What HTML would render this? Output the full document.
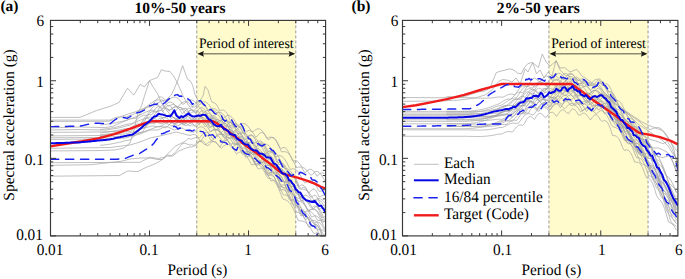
<!DOCTYPE html>
<html><head><meta charset="utf-8"><style>
html,body{margin:0;padding:0;background:#fff;width:685px;height:279px;overflow:hidden;}
svg{display:block;}
text{font-family:"Liberation Serif",serif;text-rendering:geometricPrecision;}
</style></head><body>
<svg width="685" height="279" viewBox="0 0 685 279">
<rect width="685" height="279" fill="#fff"/>
<rect x="196.77" y="20.40" width="99.02" height="215.50" fill="#FFFBCC"/>
<line x1="196.77" y1="20.40" x2="196.77" y2="235.90" stroke="#9a9a9a" stroke-width="1" stroke-dasharray="3 2"/>
<line x1="295.79" y1="20.40" x2="295.79" y2="235.90" stroke="#9a9a9a" stroke-width="1" stroke-dasharray="3 2"/>
<clipPath id="cp0"><rect x="50.5" y="20.4" width="275.10" height="215.50"/></clipPath>
<g clip-path="url(#cp0)">
<polyline points="50.5,117.4 80.1,117.4 96.3,110.6 110.2,106.3 119.0,102.5 127.5,88.2 133.8,95.1 140.1,84.4 144.5,86.9 149.5,80.6 153.9,78.8 157.6,77.5 161.4,69.7 165.0,71.0 170.0,71.5 173.8,76.3 176.9,82.0 180.7,90.1 182.6,95.0 187.0,103.0 190.0,107.2 191.5,106.8 193.0,107.2 194.5,107.2 196.0,105.9 197.5,104.1 199.0,102.6 200.5,102.1 202.0,102.4 203.5,103.3 205.0,105.1 206.5,107.3 208.0,110.0 209.5,109.8 211.0,109.1 212.5,108.7 214.0,108.7 215.5,109.1 217.0,110.2 218.5,111.7 220.0,113.7 221.5,116.0 223.0,118.5 224.5,117.3 226.0,116.3 227.5,115.5 229.0,115.5 230.5,116.2 232.0,117.4 233.5,119.2 235.0,121.5 236.5,124.1 238.0,125.8 239.5,124.8 241.0,123.9 242.5,123.4 244.0,123.5 245.5,124.1 247.0,125.2 248.5,126.9 250.0,128.9 251.5,131.2 253.0,131.8 254.5,130.5 256.0,129.4 257.5,128.9 259.0,128.8 260.5,129.4 262.0,130.7 263.5,132.6 265.0,135.0 266.5,137.9 268.0,138.0 269.5,137.3 271.0,137.1 272.5,137.4 274.0,138.4 275.5,140.2 277.0,142.5 278.5,145.4 280.0,148.6 281.5,151.9 283.0,151.7 284.5,151.6 286.0,151.9 287.5,152.6 289.0,154.0 290.5,155.9 292.0,158.4 293.5,161.4 295.0,164.8 296.5,167.5 298.0,167.2 299.5,167.0 301.0,166.9 302.5,167.3 304.0,167.9 305.5,169.0 307.0,170.6 308.5,172.4 310.0,174.6 311.5,175.2 313.0,173.5 314.5,172.2 316.0,171.5 317.5,171.4 319.0,172.4 320.5,173.9 322.0,176.1 323.5,178.5 325.0,181.1" fill="none" stroke="#a4a4a4" stroke-width="0.7" stroke-linejoin="round" />
<polyline points="50.5,120.1 113.9,120.1 121.4,116.3 128.9,113.8 135.2,111.9 145.0,108.0 155.0,104.0 162.0,101.0 166.0,100.0 171.3,95.0 177.5,81.3 182.6,65.6 185.1,72.5 187.6,79.4 190.1,80.7 192.6,85.1 195.1,95.0 199.0,102.0 203.0,96.0 205.1,86.3 208.0,90.0 211.0,100.0 212.0,102.0 213.5,102.6 215.0,103.0 216.5,104.7 218.0,107.0 219.5,110.9 221.0,110.2 222.5,110.0 224.0,110.1 225.5,111.5 227.0,113.3 228.5,116.4 230.0,120.2 231.5,124.2 233.0,124.2 234.5,123.8 236.0,123.9 237.5,124.6 239.0,126.1 240.5,128.2 242.0,130.7 243.5,133.7 245.0,133.2 246.5,131.7 248.0,130.7 249.5,130.4 251.0,131.0 252.5,132.3 254.0,134.4 255.5,136.8 257.0,136.4 258.5,134.5 260.0,133.1 261.5,132.5 263.0,132.9 264.5,134.2 266.0,136.4 267.5,139.2 269.0,139.6 270.5,138.2 272.0,137.5 273.5,137.6 275.0,138.7 276.5,140.8 278.0,143.6 279.5,147.0 281.0,148.6 282.5,147.8 284.0,147.5 285.5,148.1 287.0,149.5 288.5,151.9 290.0,155.0 291.5,158.7 293.0,161.2 294.5,160.8 296.0,160.7 297.5,161.4 299.0,162.8 300.5,165.0 302.0,167.6 303.5,170.7 305.0,172.9 306.5,171.4 308.0,170.0 309.5,169.3 311.0,169.4 312.5,170.2 314.0,171.7 315.5,173.9 317.0,176.3 318.5,174.6 320.0,173.5 321.5,172.8 323.0,173.1 324.5,173.8" fill="none" stroke="#a4a4a4" stroke-width="0.7" stroke-linejoin="round" />
<polyline points="50.5,121.4 108.9,121.3 115.1,117.5 120.2,116.9 126.0,117.0 134.0,114.0 142.0,110.0 150.0,104.0 156.0,100.0 162.7,100.1 168.0,106.0 174.0,104.0 180.0,110.0 186.0,108.0 190.0,113.3 191.5,112.7 193.0,112.0 194.5,111.2 196.0,110.8 197.5,111.0 199.0,112.1 200.5,114.0 202.0,116.1 203.5,115.3 205.0,114.1 206.5,113.3 208.0,113.2 209.5,113.7 211.0,114.9 212.5,116.7 214.0,118.9 215.5,121.2 217.0,123.4 218.5,122.0 220.0,120.8 221.5,119.9 223.0,119.5 224.5,119.8 226.0,120.7 227.5,122.1 229.0,124.3 230.5,126.8 232.0,128.3 233.5,127.2 235.0,126.4 236.5,126.1 238.0,126.4 239.5,127.3 241.0,128.8 242.5,131.0 244.0,133.6 245.5,136.5 247.0,137.2 248.5,136.3 250.0,135.7 251.5,135.5 253.0,136.0 254.5,137.0 256.0,138.6 257.5,140.7 259.0,143.2 260.5,145.9 262.0,145.4 263.5,144.6 265.0,144.1 266.5,144.3 268.0,145.0 269.5,146.3 271.0,148.3 272.5,150.9 274.0,153.8 275.5,156.8 277.0,156.2 278.5,155.8 280.0,155.7 281.5,156.1 283.0,157.1 284.5,158.9 286.0,161.3 287.5,164.1 289.0,167.3 290.5,169.3 292.0,168.9 293.5,168.8 295.0,169.2 296.5,170.2 298.0,171.7 299.5,173.9 301.0,176.4 302.5,179.3 304.0,182.2 305.5,182.8 307.0,181.9 308.5,181.1 310.0,180.9 311.5,181.2 313.0,182.0 314.5,183.3 316.0,185.4 317.5,188.1 319.0,191.3 320.5,191.3 322.0,190.8 323.5,190.5 325.0,190.5" fill="none" stroke="#a4a4a4" stroke-width="0.7" stroke-linejoin="round" />
<polyline points="50.5,127.9 80.0,127.0 105.1,127.6 112.6,126.3 121.4,122.6 130.2,118.8 138.0,116.0 146.0,112.0 152.0,110.0 158.0,112.0 164.0,108.0 170.0,110.0 176.0,106.0 182.0,108.0 188.0,112.0 190.0,110.7 191.5,110.4 193.0,111.0 194.5,109.8 196.0,108.2 197.5,106.7 199.0,106.7 200.5,108.2 202.0,110.8 203.5,113.5 205.0,111.7 206.5,110.7 208.0,110.8 209.5,112.2 211.0,114.8 212.5,118.4 214.0,121.8 215.5,120.4 217.0,119.6 218.5,119.5 220.0,120.7 221.5,122.8 223.0,125.9 224.5,129.1 226.0,127.5 227.5,126.3 229.0,126.3 230.5,127.4 232.0,129.6 233.5,132.7 235.0,136.2 236.5,134.5 238.0,133.3 239.5,133.0 241.0,133.8 242.5,135.9 244.0,138.8 245.5,142.2 247.0,140.5 248.5,139.1 250.0,138.6 251.5,139.3 253.0,141.1 254.5,143.8 256.0,147.1 257.5,145.4 259.0,144.0 260.5,143.5 262.0,144.2 263.5,146.2 265.0,149.2 266.5,152.9 268.0,151.9 269.5,151.0 271.0,151.1 272.5,152.4 274.0,155.0 275.5,158.7 277.0,162.9 278.5,162.5 280.0,162.0 281.5,162.3 283.0,163.8 284.5,166.6 286.0,170.3 287.5,174.5 289.0,174.3 290.5,173.8 292.0,174.2 293.5,175.7 295.0,178.4 296.5,182.0 298.0,186.2 299.5,186.0 301.0,185.1 302.5,185.0 304.0,185.6 305.5,187.3 307.0,189.9 308.5,192.9 310.0,191.9 311.5,190.1 313.0,189.1 314.5,189.2 316.0,190.7 317.5,193.4 319.0,197.0 320.5,196.6 322.0,195.5 323.5,195.1 325.0,195.8" fill="none" stroke="#a4a4a4" stroke-width="0.7" stroke-linejoin="round" />
<polyline points="50.5,130.0 80.0,129.5 105.1,130.1 117.6,128.2 130.2,125.1 138.0,121.0 146.0,118.0 152.0,120.0 158.0,116.0 164.0,118.0 170.0,114.0 176.0,120.0 182.0,118.0 188.0,122.0 190.0,120.7 191.5,120.0 193.0,120.4 194.5,120.5 196.0,118.6 197.5,116.4 199.0,115.2 200.5,115.5 202.0,117.0 203.5,119.4 205.0,120.6 206.5,118.5 208.0,117.2 209.5,117.0 211.0,118.1 212.5,120.2 214.0,123.0 215.5,124.7 217.0,122.6 218.5,121.0 220.0,120.3 221.5,120.7 223.0,122.2 224.5,124.6 226.0,126.5 227.5,124.1 229.0,122.6 230.5,122.1 232.0,122.7 233.5,124.6 235.0,127.3 236.5,130.0 238.0,128.1 239.5,127.0 241.0,126.8 242.5,128.1 244.0,130.5 245.5,133.7 247.0,137.3 248.5,135.9 250.0,134.9 251.5,134.9 253.0,136.0 254.5,138.2 256.0,141.4 257.5,145.1 259.0,143.9 260.5,142.9 262.0,142.8 263.5,143.9 265.0,146.3 266.5,149.7 268.0,153.6 269.5,153.1 271.0,152.4 272.5,152.7 274.0,154.0 275.5,156.7 277.0,160.2 278.5,164.3 280.0,164.3 281.5,163.5 283.0,163.7 284.5,165.0 286.0,167.5 287.5,171.0 289.0,175.1 290.5,175.6 292.0,175.0 293.5,175.3 295.0,176.8 296.5,179.5 298.0,183.1 299.5,187.4 301.0,188.4 302.5,187.6 304.0,187.4 305.5,188.2 307.0,190.1 308.5,192.9 310.0,196.5 311.5,197.2 313.0,195.8 314.5,195.2 316.0,195.8 317.5,197.7 319.0,201.0 320.5,204.9 322.0,206.5 323.5,205.4 325.0,205.0" fill="none" stroke="#a4a4a4" stroke-width="0.7" stroke-linejoin="round" />
<polyline points="50.5,132.4 98.8,132.0 120.0,131.0 132.0,128.0 140.0,126.0 148.0,124.0 156.0,122.0 162.0,124.0 168.0,120.0 174.0,124.0 180.0,122.0 186.0,126.0 190.0,123.3 191.5,122.5 193.0,121.6 194.5,120.9 196.0,121.3 197.5,122.8 199.0,124.5 200.5,122.2 202.0,120.4 203.5,119.7 205.0,120.2 206.5,122.0 208.0,124.7 209.5,128.0 211.0,127.1 212.5,126.0 214.0,125.5 215.5,125.9 217.0,127.4 218.5,129.7 220.0,132.7 221.5,132.6 223.0,130.8 224.5,129.8 226.0,129.7 227.5,130.7 229.0,132.9 230.5,136.0 232.0,137.6 233.5,136.0 235.0,134.9 236.5,134.8 238.0,135.8 239.5,137.9 241.0,140.9 242.5,144.2 244.0,142.8 245.5,141.8 247.0,141.7 248.5,142.5 250.0,144.4 251.5,147.1 253.0,150.5 254.5,150.0 256.0,148.8 257.5,148.3 259.0,148.7 260.5,150.3 262.0,152.9 263.5,156.4 265.0,157.6 266.5,156.6 268.0,156.3 269.5,156.9 271.0,158.8 272.5,161.9 274.0,165.7 275.5,169.0 277.0,168.3 278.5,168.2 280.0,169.0 281.5,170.7 283.0,173.7 284.5,177.5 286.0,181.9 287.5,181.5 289.0,181.3 290.5,181.8 292.0,183.4 293.5,186.1 295.0,189.8 296.5,194.0 298.0,195.0 299.5,194.4 301.0,194.4 302.5,195.2 304.0,196.8 305.5,199.3 307.0,202.3 308.5,203.6 310.0,201.9 311.5,200.8 313.0,200.5 314.5,201.3 316.0,203.4 317.5,206.4 319.0,209.7 320.5,208.4 322.0,207.7 323.5,207.7 325.0,208.8" fill="none" stroke="#a4a4a4" stroke-width="0.7" stroke-linejoin="round" />
<polyline points="50.5,135.9 100.0,135.5 125.0,134.0 136.0,131.0 144.0,128.0 152.0,126.0 160.0,127.0 166.0,123.0 172.0,126.0 178.0,122.0 184.0,125.0 190.0,120.0 191.5,119.3 193.0,119.0 194.5,119.2 196.0,120.4 197.5,120.4 199.0,117.7 200.5,115.6 202.0,114.5 203.5,114.5 205.0,115.7 206.5,117.9 208.0,120.7 209.5,120.2 211.0,118.9 212.5,118.3 214.0,118.4 215.5,119.4 217.0,121.5 218.5,124.1 220.0,127.2 221.5,125.4 223.0,124.1 224.5,123.5 226.0,123.9 227.5,125.2 229.0,127.6 230.5,130.7 232.0,132.7 233.5,131.4 235.0,130.4 236.5,130.2 238.0,131.0 239.5,132.8 241.0,135.5 242.5,139.0 244.0,140.0 245.5,138.9 247.0,138.4 248.5,138.5 250.0,139.6 251.5,141.7 253.0,144.5 254.5,147.7 256.0,147.2 257.5,146.1 259.0,145.6 260.5,146.0 262.0,147.5 263.5,150.0 265.0,153.4 266.5,156.8 268.0,156.0 269.5,155.7 271.0,156.2 272.5,157.8 274.0,160.4 275.5,164.0 277.0,168.2 278.5,171.0 280.0,170.7 281.5,170.9 283.0,171.9 284.5,174.0 286.0,177.1 287.5,180.8 289.0,185.1 290.5,186.4 292.0,186.3 293.5,186.7 295.0,187.9 296.5,190.2 298.0,193.3 299.5,197.1 301.0,201.0 302.5,200.5 304.0,199.7 305.5,199.4 307.0,199.9 308.5,201.3 310.0,203.7 311.5,206.7 313.0,209.0 314.5,207.5 316.0,206.7 317.5,206.8 319.0,208.3 320.5,210.6 322.0,213.9 323.5,217.7 325.0,219.3" fill="none" stroke="#a4a4a4" stroke-width="0.7" stroke-linejoin="round" />
<polyline points="50.5,137.8 100.0,137.5 125.0,136.0 138.0,133.0 146.0,131.0 154.0,128.0 160.0,126.0 166.0,128.0 172.0,122.0 178.0,126.0 184.0,122.0 190.0,126.0 191.5,125.1 193.0,125.0 194.5,125.6 196.0,127.0 197.5,125.9 199.0,124.2 200.5,122.9 202.0,122.3 203.5,122.5 205.0,123.6 206.5,125.4 208.0,127.9 209.5,130.7 211.0,131.5 212.5,130.7 214.0,130.0 215.5,129.7 217.0,130.0 218.5,130.9 220.0,132.4 221.5,134.3 223.0,136.7 224.5,138.2 226.0,136.8 227.5,135.6 229.0,135.1 230.5,135.2 232.0,136.0 233.5,137.5 235.0,139.5 236.5,142.1 238.0,144.8 239.5,144.1 241.0,143.3 242.5,143.0 244.0,143.5 245.5,144.5 247.0,146.1 248.5,148.3 250.0,151.0 251.5,154.0 253.0,154.8 254.5,154.0 256.0,153.6 257.5,153.7 259.0,154.4 260.5,155.8 262.0,157.8 263.5,160.6 265.0,163.7 266.5,166.1 268.0,165.6 269.5,165.5 271.0,165.8 272.5,166.9 274.0,168.6 275.5,171.2 277.0,174.3 278.5,177.8 280.0,181.5 281.5,181.3 283.0,181.2 284.5,181.6 286.0,182.6 287.5,184.2 289.0,186.5 290.5,189.3 292.0,192.7 293.5,196.4 295.0,197.8 296.5,197.8 298.0,198.1 299.5,198.9 301.0,200.1 302.5,201.8 304.0,204.0 305.5,206.5 307.0,209.4 308.5,211.1 310.0,210.1 311.5,209.4 313.0,209.1 314.5,209.3 316.0,210.5 317.5,212.4 319.0,215.4 320.5,218.6 322.0,222.2 323.5,221.7 325.0,221.3" fill="none" stroke="#a4a4a4" stroke-width="0.7" stroke-linejoin="round" />
<polyline points="50.5,139.4 100.0,139.0 125.0,138.0 140.0,134.0 150.0,130.0 158.0,130.0 166.0,126.0 174.0,130.0 182.0,128.0 190.0,132.0 191.5,131.6 193.0,132.1 194.5,131.8 196.0,130.5 197.5,128.7 199.0,127.3 200.5,126.8 202.0,126.9 203.5,127.6 205.0,129.0 206.5,130.9 208.0,133.2 209.5,132.2 211.0,131.0 212.5,130.0 214.0,129.4 215.5,129.2 217.0,129.6 218.5,130.4 220.0,131.7 221.5,133.3 223.0,135.0 224.5,133.1 226.0,131.4 227.5,130.1 229.0,129.5 230.5,129.7 232.0,130.4 233.5,131.9 235.0,133.8 236.5,136.2 238.0,138.1 239.5,137.1 241.0,136.7 242.5,136.9 244.0,137.7 245.5,139.1 247.0,141.0 248.5,143.4 250.0,146.3 251.5,149.5 253.0,151.4 254.5,151.0 256.0,150.8 257.5,151.1 259.0,151.7 260.5,153.0 262.0,154.9 263.5,157.4 265.0,160.4 266.5,163.8 268.0,165.2 269.5,164.9 271.0,165.0 272.5,165.6 274.0,166.7 275.5,168.6 277.0,171.0 278.5,173.9 280.0,177.2 281.5,180.6 283.0,181.6 284.5,181.6 286.0,182.0 287.5,182.8 289.0,184.2 290.5,186.3 292.0,189.0 293.5,192.3 295.0,196.1 296.5,200.1 298.0,200.8 299.5,201.3 301.0,201.8 302.5,202.8 304.0,204.1 305.5,205.9 307.0,208.2 308.5,210.9 310.0,214.0 311.5,217.0 313.0,216.4 314.5,215.8 316.0,215.9 317.5,216.6 319.0,218.2 320.5,220.2 322.0,222.9 323.5,225.8 325.0,228.9" fill="none" stroke="#a4a4a4" stroke-width="0.7" stroke-linejoin="round" />
<polyline points="50.5,148.3 110.0,147.5 130.0,145.0 140.0,142.0 150.0,138.0 160.0,136.0 168.0,134.0 176.0,132.0 184.0,134.0 190.0,135.5 191.5,134.9 193.0,134.5 194.5,134.5 196.0,135.1 197.5,136.6 199.0,138.4 200.5,136.7 202.0,134.7 203.5,133.1 205.0,132.3 206.5,132.3 208.0,133.0 209.5,134.4 211.0,136.5 212.5,138.8 214.0,138.2 215.5,136.4 217.0,135.1 218.5,134.1 220.0,133.9 221.5,134.4 223.0,135.5 224.5,137.2 226.0,139.4 227.5,139.6 229.0,138.3 230.5,137.4 232.0,137.1 233.5,137.5 235.0,138.6 236.5,140.5 238.0,143.1 239.5,146.1 241.0,148.3 242.5,147.9 244.0,148.0 245.5,148.4 247.0,149.5 248.5,151.1 250.0,153.3 251.5,156.2 253.0,159.4 254.5,162.2 256.0,161.5 257.5,161.0 259.0,160.9 260.5,161.4 262.0,162.6 263.5,164.5 265.0,167.0 266.5,170.2 268.0,173.5 269.5,173.0 271.0,172.7 272.5,172.8 274.0,173.5 275.5,175.1 277.0,177.3 278.5,180.2 280.0,183.5 281.5,187.0 283.0,187.7 284.5,187.6 286.0,188.0 287.5,188.9 289.0,190.6 290.5,193.0 292.0,196.1 293.5,199.8 295.0,203.9 296.5,205.8 298.0,206.1 299.5,206.7 301.0,207.7 302.5,209.1 304.0,211.1 305.5,213.6 307.0,216.5 308.5,219.7 310.0,221.5 311.5,220.8 313.0,220.3 314.5,220.3 316.0,221.1 317.5,222.7 319.0,225.3 320.5,228.4 322.0,231.9 323.5,234.6 325.0,234.0" fill="none" stroke="#a4a4a4" stroke-width="0.7" stroke-linejoin="round" />
<polyline points="50.5,150.9 97.0,150.6 115.0,150.0 124.0,148.0 130.0,143.0 134.0,130.0 138.0,113.0 141.5,105.8 145.1,94.0 149.5,80.6 152.6,86.3 157.6,93.8 162.0,104.0 168.0,112.0 174.0,118.0 180.0,122.0 186.0,118.0 190.0,123.3 191.5,123.0 193.0,123.8 194.5,125.5 196.0,124.7 197.5,123.0 199.0,121.5 200.5,121.2 202.0,122.2 203.5,124.1 205.0,126.9 206.5,125.8 208.0,124.1 209.5,123.2 211.0,123.6 212.5,125.1 214.0,127.5 215.5,130.3 217.0,130.1 218.5,128.2 220.0,127.2 221.5,127.1 223.0,128.2 224.5,130.4 226.0,133.3 227.5,133.9 229.0,132.4 230.5,131.8 232.0,132.1 233.5,133.7 235.0,136.3 236.5,139.7 238.0,141.6 239.5,140.4 241.0,140.1 242.5,141.1 244.0,143.3 245.5,146.5 247.0,150.4 248.5,153.4 250.0,152.5 251.5,152.1 253.0,152.7 254.5,154.3 256.0,157.0 257.5,160.5 259.0,163.9 260.5,162.6 262.0,161.8 263.5,162.0 265.0,163.4 266.5,166.0 268.0,169.5 269.5,173.4 271.0,172.7 272.5,172.2 274.0,172.6 275.5,174.3 277.0,177.0 278.5,180.7 280.0,185.0 281.5,185.1 283.0,184.8 284.5,185.3 286.0,187.1 287.5,189.9 289.0,193.8 290.5,198.3 292.0,199.6 293.5,199.5 295.0,200.4 296.5,202.2 298.0,205.3 299.5,209.3 301.0,213.8 302.5,215.6 304.0,215.1 305.5,215.1 307.0,216.0 308.5,217.9 310.0,221.0 311.5,224.7 313.0,226.5 314.5,225.3 316.0,225.0 317.5,225.8 319.0,228.1 320.5,231.2 322.0,235.3 323.5,238.1" fill="none" stroke="#a4a4a4" stroke-width="0.7" stroke-linejoin="round" />
<polyline points="50.5,162.7 140.0,162.3 150.1,157.2 158.3,158.6 164.4,157.2 168.5,153.0 175.1,146.3 180.1,143.8 185.1,141.3 188.9,138.2 190.0,139.1 191.5,139.1 193.0,138.7 194.5,137.9 196.0,137.5 197.5,137.9 199.0,139.4 200.5,141.5 202.0,139.2 203.5,136.8 205.0,135.4 206.5,135.0 208.0,135.9 209.5,137.7 211.0,140.3 212.5,140.6 214.0,138.4 215.5,136.8 217.0,136.1 218.5,136.4 220.0,137.7 221.5,139.8 223.0,142.0 224.5,139.7 226.0,137.9 227.5,137.0 229.0,137.4 230.5,139.0 232.0,141.5 233.5,144.7 235.0,144.8 236.5,143.5 238.0,143.0 239.5,143.6 241.0,145.5 242.5,148.7 244.0,152.6 245.5,155.4 247.0,154.6 248.5,154.2 250.0,154.7 251.5,156.2 253.0,158.6 254.5,161.9 256.0,165.7 257.5,165.2 259.0,164.3 260.5,164.1 262.0,164.9 263.5,166.9 265.0,169.8 266.5,173.5 268.0,175.2 269.5,174.3 271.0,174.1 272.5,174.8 274.0,176.7 275.5,179.7 277.0,183.5 278.5,187.5 280.0,186.8 281.5,186.4 283.0,186.9 284.5,188.6 286.0,191.4 287.5,195.0 289.0,199.3 290.5,200.6 292.0,200.3 293.5,200.8 295.0,202.3 296.5,204.9 298.0,208.5 299.5,212.7 301.0,216.0 302.5,215.4 304.0,215.1 305.5,215.5 307.0,216.8 308.5,219.1 310.0,222.3 311.5,225.9 313.0,225.5 314.5,224.4 316.0,224.3 317.5,225.3 319.0,227.8 320.5,231.0 322.0,235.0 323.5,237.1 325.0,236.2" fill="none" stroke="#a4a4a4" stroke-width="0.7" stroke-linejoin="round" />
<polyline points="50.5,165.3 90.9,164.7 121.5,161.2 130.0,159.0 140.0,158.0 150.0,158.0 158.0,159.5 162.5,159.5 167.5,155.1 171.3,155.7 175.1,152.6 180.1,146.3 182.0,143.8 185.1,143.2 190.0,145.2 191.5,144.6 193.0,145.0 194.5,146.2 196.0,145.4 197.5,143.6 199.0,141.9 200.5,141.0 202.0,140.9 203.5,141.6 205.0,143.2 206.5,145.3 208.0,145.9 209.5,144.0 211.0,142.6 212.5,141.7 214.0,141.5 215.5,142.0 217.0,143.2 218.5,144.9 220.0,146.9 221.5,144.6 223.0,142.5 224.5,141.0 226.0,140.4 227.5,140.5 229.0,141.8 230.5,143.8 232.0,146.3 233.5,146.8 235.0,145.4 236.5,144.5 238.0,144.4 239.5,145.2 241.0,147.2 242.5,150.2 244.0,153.8 245.5,157.3 247.0,156.7 248.5,156.3 250.0,156.5 251.5,157.5 253.0,159.2 254.5,161.8 256.0,164.9 257.5,168.4 259.0,169.1 260.5,168.3 262.0,168.0 263.5,168.5 265.0,169.8 266.5,172.0 268.0,174.9 269.5,178.3 271.0,181.2 272.5,180.6 274.0,180.5 275.5,181.0 277.0,182.3 278.5,184.4 280.0,187.2 281.5,190.6 283.0,194.5 284.5,195.1 286.0,195.1 287.5,195.4 289.0,196.6 290.5,198.5 292.0,201.4 293.5,205.0 295.0,209.2 296.5,212.2 298.0,212.3 299.5,212.8 301.0,213.7 302.5,215.3 304.0,217.5 305.5,220.3 307.0,223.6 308.5,227.1 310.0,226.9 311.5,226.3 313.0,226.1 314.5,226.6 316.0,228.1 317.5,230.4 319.0,233.9 320.5,237.6 322.0,239.6" fill="none" stroke="#a4a4a4" stroke-width="0.7" stroke-linejoin="round" />
<polyline points="50.5,176.2 119.5,175.5 127.7,171.0 137.9,171.5 146.0,167.4 156.3,163.3 161.4,160.2 166.5,156.1 172.6,156.1 178.8,151.0 186.0,148.0 190.0,147.0 191.5,147.0 193.0,146.4 194.5,145.1 196.0,143.6 197.5,142.0 199.0,141.2 200.5,141.4 202.0,142.2 203.5,143.4 205.0,145.0 206.5,144.3 208.0,142.8 209.5,141.7 211.0,141.1 212.5,141.1 214.0,141.5 215.5,142.4 217.0,143.8 218.5,145.5 220.0,147.5 221.5,148.1 223.0,146.7 224.5,145.4 226.0,144.7 227.5,144.3 229.0,144.7 230.5,145.8 232.0,147.4 233.5,149.4 235.0,151.7 236.5,153.9 238.0,152.9 239.5,152.1 241.0,151.9 242.5,152.4 244.0,153.5 245.5,154.9 247.0,156.9 248.5,159.2 250.0,161.8 251.5,164.7 253.0,164.8 254.5,164.2 256.0,163.9 257.5,164.0 259.0,164.6 260.5,165.8 262.0,167.6 263.5,170.0 265.0,173.0 266.5,176.3 268.0,178.2 269.5,178.2 271.0,178.5 272.5,179.4 274.0,180.7 275.5,182.8 277.0,185.4 278.5,188.5 280.0,192.0 281.5,195.7 283.0,199.1 284.5,199.5 286.0,200.1 287.5,201.0 289.0,202.3 290.5,204.0 292.0,206.4 293.5,209.3 295.0,212.6 296.5,216.3 298.0,220.1 299.5,220.9 301.0,220.9 302.5,221.1 304.0,221.5 305.5,222.3 307.0,223.5 308.5,225.1 310.0,227.3 311.5,229.8 313.0,232.6 314.5,233.5 316.0,233.0 317.5,232.8 319.0,233.5 320.5,234.6 322.0,236.3 323.5,238.4" fill="none" stroke="#a4a4a4" stroke-width="0.7" stroke-linejoin="round" />
<polyline points="100.0,129.5 101.5,129.3 103.0,129.2 104.5,129.0 106.0,128.8 107.5,128.6 109.0,128.4 110.5,128.2 112.0,127.9 113.5,127.6 115.0,127.4 116.5,127.0 118.0,126.7 119.5,126.4 121.0,126.0 122.5,125.5 124.0,125.0 125.5,124.6 127.0,124.3 128.5,124.0 130.0,123.9 131.5,123.9 133.0,123.1 134.5,121.8 136.0,120.4 137.5,119.0 139.0,117.8 140.5,116.7 142.0,115.9 143.5,115.4 145.0,115.2 146.5,115.2 148.0,113.8 149.5,111.5 151.0,109.3 152.5,107.4 154.0,106.0 155.5,105.1 157.0,105.0 158.5,105.5 160.0,106.7 161.5,108.3 163.0,108.3 164.5,106.2 166.0,104.5 167.5,102.9 169.0,102.2 170.5,102.2 172.0,102.6 173.5,103.8 175.0,105.1 176.5,106.8 178.0,106.9 179.5,105.1 181.0,103.3 182.5,102.5 184.0,101.8 185.5,101.6 187.0,101.9 188.5,102.7 190.0,104.0 191.5,105.5 193.0,106.5 194.5,104.8 196.0,103.2 197.5,102.1 199.0,101.4 200.5,101.4 202.0,102.2 203.5,103.7 205.0,105.8 206.5,108.4 208.0,111.0 209.5,110.3 211.0,110.1 212.5,110.2 214.0,110.6 215.5,111.5 217.0,113.0 218.5,115.0 220.0,117.4 221.5,120.0 223.0,122.9 224.5,122.2 226.0,121.6 227.5,121.2 229.0,121.6 230.5,122.5 232.0,123.9 233.5,125.9 235.0,128.3 236.5,131.0 238.0,133.9 239.5,133.7 241.0,133.0 242.5,132.7 244.0,132.9 245.5,133.6 247.0,134.7 248.5,136.3 250.0,138.3 251.5,140.6 253.0,143.2 254.5,143.1 256.0,142.1 257.5,141.4 259.0,141.0 260.5,141.2 262.0,141.9 263.5,143.4 265.0,145.4 266.5,148.1 268.0,150.9 269.5,151.7 271.0,151.2 272.5,151.2 274.0,151.6 275.5,152.7 277.0,154.4 278.5,156.6 280.0,159.4 281.5,162.6 283.0,166.2 284.5,168.3 286.0,168.5 287.5,168.9 289.0,169.8 290.5,171.2 292.0,173.2 293.5,175.8 295.0,179.0 296.5,182.6 298.0,186.4 299.5,189.1 301.0,189.1 302.5,189.2 304.0,189.4 305.5,189.9 307.0,190.8 308.5,192.1 310.0,194.0 311.5,196.2 313.0,198.6 314.5,200.4 316.0,199.3 317.5,198.6 319.0,198.6 320.5,198.9 322.0,199.9 323.5,201.2 325.0,202.9" fill="none" stroke="#a4a4a4" stroke-width="0.7" stroke-linejoin="round" />
<polyline points="100.0,133.0 101.5,132.8 103.0,132.7 104.5,132.5 106.0,132.3 107.5,132.1 109.0,131.9 110.5,131.7 112.0,131.4 113.5,131.2 115.0,130.9 116.5,130.6 118.0,130.3 119.5,130.0 121.0,129.6 122.5,129.3 124.0,128.9 125.5,128.7 127.0,128.7 128.5,128.8 130.0,128.4 131.5,127.3 133.0,126.3 134.5,125.2 136.0,124.5 137.5,124.0 139.0,124.0 140.5,124.0 142.0,121.7 143.5,119.3 145.0,117.2 146.5,115.7 148.0,114.7 149.5,114.6 151.0,115.0 152.5,114.0 154.0,111.1 155.5,108.6 157.0,107.0 158.5,106.5 160.0,107.2 161.5,109.0 163.0,111.4 164.5,109.4 166.0,107.3 167.5,105.7 169.0,105.4 170.5,106.3 172.0,108.1 173.5,110.7 175.0,111.9 176.5,109.9 178.0,108.1 179.5,107.5 181.0,107.8 182.5,109.5 184.0,111.7 185.5,114.3 187.0,113.4 188.5,111.4 190.0,110.0 191.5,109.5 193.0,110.1 194.5,111.7 196.0,113.9 197.5,115.7 199.0,113.3 200.5,111.5 202.0,110.7 203.5,111.0 205.0,112.4 206.5,114.9 208.0,118.1 209.5,118.6 211.0,117.5 212.5,116.9 214.0,117.1 215.5,118.3 217.0,120.4 218.5,123.2 220.0,126.4 221.5,124.7 223.0,123.5 224.5,123.1 226.0,123.7 227.5,125.3 229.0,128.1 230.5,131.6 232.0,133.2 233.5,132.2 235.0,131.7 236.5,132.2 238.0,133.6 239.5,136.1 241.0,139.3 242.5,143.2 244.0,143.1 245.5,142.5 247.0,142.5 248.5,143.3 250.0,145.2 251.5,147.9 253.0,151.2 254.5,153.6 256.0,152.3 257.5,151.6 259.0,151.6 260.5,152.5 262.0,154.4 263.5,157.2 265.0,160.6 266.5,160.9 268.0,159.9 269.5,159.5 271.0,160.2 272.5,161.9 274.0,164.6 275.5,168.2 277.0,171.6 278.5,170.6 280.0,170.2 281.5,170.4 283.0,171.8 284.5,174.2 286.0,177.6 287.5,181.6 289.0,183.2 290.5,182.7 292.0,182.9 293.5,184.1 295.0,186.3 296.5,189.6 298.0,193.6 299.5,198.0 301.0,197.6 302.5,197.3 304.0,197.4 305.5,198.4 307.0,200.3 308.5,203.0 310.0,206.4 311.5,208.1 313.0,206.8 314.5,206.0 316.0,206.2 317.5,207.5 319.0,210.2 320.5,213.5 322.0,217.4 323.5,217.3 325.0,216.3" fill="none" stroke="#a4a4a4" stroke-width="0.7" stroke-linejoin="round" />
<polyline points="100.0,134.9 101.5,134.7 103.0,134.6 104.5,134.4 106.0,134.2 107.5,134.0 109.0,133.8 110.5,133.6 112.0,133.3 113.5,133.1 115.0,132.8 116.5,132.5 118.0,132.3 119.5,132.0 121.0,131.8 122.5,131.8 124.0,131.5 125.5,131.2 127.0,130.8 128.5,130.2 130.0,129.6 131.5,129.1 133.0,128.7 134.5,128.4 136.0,128.3 137.5,128.1 139.0,126.5 140.5,124.5 142.0,122.6 143.5,120.8 145.0,119.3 146.5,118.1 148.0,117.3 149.5,117.0 151.0,117.1 152.5,117.7 154.0,115.7 155.5,113.5 157.0,111.8 158.5,110.6 160.0,110.2 161.5,110.7 163.0,111.9 164.5,113.3 166.0,115.3 167.5,117.2 169.0,116.1 170.5,115.0 172.0,114.1 173.5,113.8 175.0,113.8 176.5,114.5 178.0,115.3 179.5,117.0 181.0,118.8 182.5,121.2 184.0,120.1 185.5,118.4 187.0,117.1 188.5,116.0 190.0,115.5 191.5,115.5 193.0,116.2 194.5,117.3 196.0,118.8 197.5,120.4 199.0,118.9 200.5,117.1 202.0,115.9 203.5,115.2 205.0,115.4 206.5,116.3 208.0,118.0 209.5,120.3 211.0,123.1 212.5,126.2 214.0,126.1 215.5,125.5 217.0,125.3 218.5,125.4 220.0,126.2 221.5,127.5 223.0,129.4 224.5,131.9 226.0,134.8 227.5,137.9 229.0,138.2 230.5,138.0 232.0,138.1 233.5,138.6 235.0,139.7 236.5,141.3 238.0,143.4 239.5,146.0 241.0,148.9 242.5,152.1 244.0,152.4 245.5,151.9 247.0,151.7 248.5,151.8 250.0,152.3 251.5,153.4 253.0,155.0 254.5,157.0 256.0,159.4 257.5,162.0 259.0,161.6 260.5,160.5 262.0,159.8 263.5,159.6 265.0,160.1 266.5,161.3 268.0,163.1 269.5,165.5 271.0,168.4 272.5,171.7 274.0,172.2 275.5,172.2 277.0,172.5 278.5,173.4 280.0,174.8 281.5,176.7 283.0,179.4 284.5,182.7 286.0,186.4 287.5,190.3 289.0,191.6 290.5,192.0 292.0,192.8 293.5,194.1 295.0,195.9 296.5,198.3 298.0,201.2 299.5,204.6 301.0,208.0 302.5,211.5 304.0,212.0 305.5,211.5 307.0,211.1 308.5,211.0 310.0,211.4 311.5,212.3 313.0,213.6 314.5,215.4 316.0,217.7 317.5,220.3 319.0,220.7 320.5,220.1 322.0,219.8 323.5,219.8 325.0,220.2" fill="none" stroke="#a4a4a4" stroke-width="0.7" stroke-linejoin="round" />
<polyline points="100.0,136.5 101.5,136.3 103.0,136.2 104.5,136.0 106.0,135.8 107.5,135.6 109.0,135.4 110.5,135.2 112.0,134.9 113.5,134.6 115.0,134.3 116.5,134.0 118.0,133.7 119.5,133.3 121.0,132.9 122.5,132.5 124.0,132.1 125.5,131.8 127.0,131.6 128.5,131.5 130.0,131.6 131.5,130.5 133.0,129.3 134.5,127.9 136.0,126.6 137.5,125.5 139.0,124.6 140.5,124.0 142.0,123.7 143.5,122.9 145.0,120.2 146.5,117.6 148.0,115.2 149.5,113.4 151.0,112.1 152.5,111.5 154.0,111.7 155.5,112.4 157.0,111.5 158.5,109.0 160.0,107.1 161.5,106.0 163.0,105.8 164.5,106.2 166.0,107.4 167.5,109.0 169.0,111.2 170.5,110.1 172.0,108.5 173.5,107.5 175.0,106.9 176.5,107.2 178.0,107.9 179.5,109.5 181.0,111.6 182.5,113.9 184.0,112.0 185.5,110.3 187.0,109.0 188.5,108.3 190.0,108.4 191.5,109.1 193.0,110.6 194.5,112.4 196.0,113.0 197.5,110.8 199.0,108.9 200.5,107.8 202.0,107.7 203.5,108.5 205.0,110.3 206.5,112.8 208.0,115.8 209.5,116.4 211.0,115.7 212.5,115.5 214.0,115.7 215.5,116.6 217.0,118.4 218.5,120.8 220.0,123.7 221.5,127.0 223.0,126.6 224.5,126.0 226.0,125.9 227.5,126.5 229.0,128.1 230.5,130.5 232.0,133.6 233.5,137.2 235.0,140.4 236.5,139.9 238.0,139.7 239.5,140.1 241.0,141.1 242.5,143.0 244.0,145.7 245.5,148.8 247.0,152.3 248.5,154.1 250.0,153.3 251.5,152.8 253.0,152.9 254.5,153.6 256.0,155.1 257.5,157.2 259.0,159.8 260.5,162.7 262.0,162.9 263.5,161.9 265.0,161.4 266.5,161.7 268.0,162.7 269.5,164.5 271.0,167.1 272.5,170.4 274.0,174.1 275.5,174.0 277.0,173.9 278.5,174.4 280.0,175.5 281.5,177.3 283.0,180.1 284.5,183.6 286.0,187.8 287.5,191.3 289.0,191.5 290.5,192.0 292.0,193.2 293.5,195.0 295.0,197.7 296.5,201.2 298.0,205.2 299.5,209.6 301.0,212.0 302.5,211.9 304.0,212.0 305.5,212.5 307.0,213.5 308.5,215.1 310.0,217.5 311.5,220.3 313.0,223.3 314.5,223.2 316.0,222.3 317.5,221.9 319.0,222.5 320.5,223.6 322.0,225.6 323.5,228.1 325.0,231.0" fill="none" stroke="#a4a4a4" stroke-width="0.7" stroke-linejoin="round" />
<polyline points="100.0,140.4 101.5,140.2 103.0,140.1 104.5,139.9 106.0,139.7 107.5,139.5 109.0,139.3 110.5,139.1 112.0,138.8 113.5,138.6 115.0,138.3 116.5,138.0 118.0,137.7 119.5,137.5 121.0,137.2 122.5,136.9 124.0,136.5 125.5,136.0 127.0,135.6 128.5,135.2 130.0,135.1 131.5,135.0 133.0,134.8 134.5,133.3 136.0,131.8 137.5,130.2 139.0,129.0 140.5,127.9 142.0,127.3 143.5,127.2 145.0,127.4 146.5,125.9 148.0,123.5 149.5,121.4 151.0,119.7 152.5,118.7 154.0,118.5 155.5,119.1 157.0,120.5 158.5,122.3 160.0,120.4 161.5,118.8 163.0,117.9 164.5,117.4 166.0,117.8 167.5,118.6 169.0,120.4 170.5,122.7 172.0,123.2 173.5,121.4 175.0,119.8 176.5,118.9 178.0,118.4 179.5,119.0 181.0,120.1 182.5,122.2 184.0,124.3 185.5,122.7 187.0,120.6 188.5,118.9 190.0,117.9 191.5,117.6 193.0,118.3 194.5,119.7 196.0,121.6 197.5,122.6 199.0,120.4 200.5,118.7 202.0,117.7 203.5,117.6 205.0,118.5 206.5,120.3 208.0,123.0 209.5,126.1 211.0,126.7 212.5,125.9 214.0,125.6 215.5,125.7 217.0,126.7 218.5,128.3 220.0,130.7 221.5,133.5 223.0,136.4 224.5,135.2 226.0,134.4 227.5,134.0 229.0,134.5 230.5,135.8 232.0,137.8 233.5,140.4 235.0,143.4 236.5,144.6 238.0,143.4 239.5,142.7 241.0,142.4 242.5,143.1 244.0,144.5 245.5,146.5 247.0,149.1 248.5,151.8 250.0,151.0 251.5,149.7 253.0,148.9 254.5,148.7 256.0,149.3 257.5,150.7 259.0,152.7 260.5,155.2 262.0,157.0 263.5,155.6 265.0,154.7 266.5,154.6 268.0,155.3 269.5,156.8 271.0,159.1 272.5,162.2 274.0,165.8 275.5,167.0 277.0,166.6 278.5,166.8 280.0,167.6 281.5,169.1 283.0,171.5 284.5,174.7 286.0,178.4 287.5,182.2 289.0,181.9 290.5,181.9 292.0,182.4 293.5,183.6 295.0,185.6 296.5,188.4 298.0,191.7 299.5,195.3 301.0,197.1 302.5,196.3 304.0,195.5 305.5,195.3 307.0,195.6 308.5,196.6 310.0,198.3 311.5,200.5 313.0,203.0 314.5,201.9 316.0,200.5 317.5,199.7 319.0,200.0 320.5,200.9 322.0,202.7 323.5,205.1 325.0,207.9" fill="none" stroke="#a4a4a4" stroke-width="0.7" stroke-linejoin="round" />
<polyline points="100.0,125.0 101.5,124.8 103.0,124.7 104.5,124.5 106.0,124.3 107.5,124.1 109.0,123.9 110.5,123.7 112.0,123.4 113.5,123.2 115.0,122.9 116.5,122.6 118.0,122.2 119.5,121.9 121.0,121.6 122.5,121.3 124.0,120.9 125.5,120.4 127.0,120.0 128.5,119.4 130.0,119.0 131.5,118.7 133.0,118.5 134.5,118.3 136.0,118.4 137.5,116.8 139.0,115.1 140.5,113.3 142.0,111.6 143.5,110.0 145.0,108.8 146.5,107.8 148.0,107.1 149.5,106.9 151.0,106.9 152.5,105.5 154.0,103.0 155.5,100.7 157.0,98.8 158.5,97.4 160.0,96.8 161.5,97.1 163.0,98.0 164.5,99.1 166.0,100.7 167.5,101.6 169.0,99.9 170.5,98.6 172.0,97.6 173.5,97.2 175.0,97.0 176.5,97.7 178.0,98.4 179.5,100.0 181.0,101.8 182.5,104.3 184.0,103.8 185.5,102.4 187.0,101.2 188.5,100.3 190.0,99.8 191.5,99.8 193.0,100.5 194.5,101.6 196.0,103.1 197.5,104.8 199.0,105.4 200.5,103.7 202.0,102.6 203.5,101.9 205.0,101.8 206.5,102.4 208.0,103.7 209.5,105.5 211.0,108.0 212.5,110.8 214.0,113.6 215.5,113.3 217.0,112.7 218.5,112.3 220.0,112.5 221.5,113.0 223.0,114.2 224.5,115.9 226.0,118.2 227.5,120.9 229.0,124.1 230.5,125.9 232.0,125.8 233.5,125.9 235.0,126.3 236.5,127.3 238.0,128.8 239.5,130.8 241.0,133.3 242.5,136.3 244.0,139.7 245.5,143.0 247.0,142.8 248.5,142.5 250.0,142.6 251.5,142.9 253.0,143.8 254.5,145.1 256.0,146.8 257.5,149.0 259.0,151.4 260.5,154.0 262.0,154.5 263.5,153.8 265.0,153.3 266.5,153.4 268.0,154.0 269.5,155.1 271.0,156.8 272.5,159.2 274.0,162.1 275.5,165.4 277.0,168.3 278.5,168.3 280.0,168.5 281.5,169.0 283.0,170.1 284.5,171.9 286.0,174.3 287.5,177.2 289.0,180.7 290.5,184.5 292.0,188.6 293.5,190.1 295.0,190.9 296.5,192.0 298.0,193.4 299.5,195.3 301.0,197.4 302.5,199.9 304.0,202.6 305.5,205.5 307.0,208.5 308.5,210.4 310.0,209.8 311.5,209.3 313.0,209.0 314.5,209.1 316.0,209.8 317.5,211.2 319.0,213.4 320.5,215.9 322.0,218.8 323.5,221.7 325.0,221.3" fill="none" stroke="#a4a4a4" stroke-width="0.7" stroke-linejoin="round" />
<polyline points="100.0,145.4 101.5,145.2 103.0,145.1 104.5,144.9 106.0,144.7 107.5,144.5 109.0,144.3 110.5,144.1 112.0,143.8 113.5,143.5 115.0,143.2 116.5,142.9 118.0,142.6 119.5,142.2 121.0,141.9 122.5,141.4 124.0,141.0 125.5,140.6 127.0,140.4 128.5,140.3 130.0,139.9 131.5,138.7 133.0,137.3 134.5,135.9 136.0,134.7 137.5,133.7 139.0,133.1 140.5,132.8 142.0,132.8 143.5,130.4 145.0,128.0 146.5,125.9 148.0,124.1 149.5,123.1 151.0,122.7 152.5,123.1 154.0,124.2 155.5,123.2 157.0,120.9 158.5,119.1 160.0,118.1 161.5,118.1 163.0,119.0 164.5,120.3 166.0,122.3 167.5,123.0 169.0,120.8 170.5,119.1 172.0,117.9 173.5,117.6 175.0,117.8 176.5,119.0 178.0,120.3 179.5,122.4 181.0,120.4 182.5,118.6 184.0,117.0 185.5,116.1 187.0,116.0 188.5,116.7 190.0,118.2 191.5,120.0 193.0,119.8 194.5,117.8 196.0,116.2 197.5,115.3 199.0,115.3 200.5,116.3 202.0,118.5 203.5,121.3 205.0,123.8 206.5,122.8 208.0,122.4 209.5,122.7 211.0,123.9 212.5,125.9 214.0,128.6 215.5,131.8 217.0,135.3 218.5,135.1 220.0,134.3 221.5,134.0 223.0,134.3 224.5,135.5 226.0,137.5 227.5,140.1 229.0,143.3 230.5,144.7 232.0,143.7 233.5,143.2 235.0,143.3 236.5,144.2 238.0,145.9 239.5,148.4 241.0,151.4 242.5,154.4 244.0,153.6 245.5,153.0 247.0,152.9 248.5,153.6 250.0,155.1 251.5,157.5 253.0,160.5 254.5,163.9 256.0,164.0 257.5,163.3 259.0,163.0 260.5,163.4 262.0,164.7 263.5,167.0 265.0,170.0 266.5,173.6 268.0,175.7 269.5,175.2 271.0,175.1 272.5,175.8 274.0,177.3 275.5,179.8 277.0,182.9 278.5,186.6 280.0,190.4 281.5,189.8 283.0,189.7 284.5,190.2 286.0,191.4 287.5,193.5 289.0,196.4 290.5,199.8 292.0,203.8 293.5,204.9 295.0,204.8 296.5,205.3 298.0,206.4 299.5,208.3 301.0,210.9 302.5,214.0 304.0,217.5 305.5,219.6 307.0,218.7 308.5,218.1 310.0,218.2 311.5,219.1 313.0,220.7 314.5,223.1 316.0,226.3 317.5,229.9 319.0,229.6 320.5,229.4 322.0,229.7 323.5,230.7 325.0,232.3" fill="none" stroke="#a4a4a4" stroke-width="0.7" stroke-linejoin="round" />
<polyline points="50.5,146.4 66.0,143.8 82.1,141.3 98.2,138.4 114.2,134.1 130.3,128.7 143.1,123.9 149.5,121.6 152.0,121.2 213.0,121.3 216.5,123.0 219.3,125.1 226.5,130.1 233.7,135.8 238.0,138.5 242.2,142.9 249.3,148.0 256.5,153.0 262.2,157.9 269.2,162.9 276.3,168.7 280.6,172.2 284.9,174.4 290.7,175.8 297.5,177.6 307.5,180.8 314.7,183.6 321.8,187.2 325.6,188.6" fill="none" stroke="#f01c1c" stroke-width="2.4" stroke-linejoin="round" />
<polyline points="50.5,126.6 52.1,126.6 53.6,126.6 55.2,126.5 56.7,126.5 58.3,126.5 59.8,126.5 61.4,126.5 62.9,126.4 64.5,126.4 66.0,126.4 67.6,126.4 69.1,126.3 70.7,126.3 72.2,126.3 73.8,126.3 75.3,126.3 76.9,126.2 78.4,126.2 80.0,126.2 81.5,125.8 83.0,125.5 84.5,125.1 86.0,124.8 87.5,124.4 89.3,124.2 91.0,123.9 92.8,123.7 94.5,123.4 96.3,123.2 97.8,123.3 99.4,123.3 100.9,123.4 102.4,123.5 104.0,123.5 105.5,123.6 107.0,123.7 108.6,123.7 110.1,123.8 111.7,122.5 113.2,121.3 114.8,120.0 116.4,118.8 118.0,118.5 119.6,118.2 121.1,117.8 122.7,117.5 124.4,117.7 126.0,118.0 127.7,118.2 129.6,117.0 131.4,115.7 133.0,114.9 134.6,114.1 136.1,113.3 137.7,112.5 140.0,112.2 142.2,111.2 144.3,110.1 146.0,108.7 147.6,107.2 149.3,105.8 151.0,105.4 152.7,104.9 154.5,104.1 156.2,104.4 157.9,103.7 159.6,103.8 161.2,102.6 162.9,104.1 165.1,102.5 167.2,100.4 169.0,98.8 170.8,97.9 172.5,98.1 174.1,95.7 175.8,94.9 177.6,94.6 179.4,96.3 181.2,96.0 183.0,97.7 185.2,97.7 187.3,98.4 190.0,100.5 192.4,104.3 195.0,102.4 196.8,101.5 198.6,100.8 200.7,100.7 203.0,103.9 205.0,105.6 207.9,107.0 209.4,109.9 211.0,109.4 213.0,111.5 215.0,113.7 217.9,114.9 220.8,114.2 223.0,119.4 225.1,121.3 227.9,118.9 230.8,118.5 233.7,123.7 235.8,126.5 238.0,127.3 240.7,123.6 242.9,126.8 245.0,132.1 247.2,135.7 248.6,138.6 250.3,139.1 252.0,142.7 253.6,143.9 255.1,145.6 257.9,143.5 259.9,145.0 262.0,146.0 264.9,144.4 267.7,147.5 270.5,148.7 272.0,150.3 273.5,150.8 276.3,155.0 277.8,158.2 279.9,161.2 282.5,166.6 284.9,169.1 286.4,169.4 288.0,171.7 289.7,174.0 291.4,175.9 293.5,174.6 295.6,175.7 297.8,175.9 300.0,172.3 301.8,172.7 304.5,174.2 306.0,174.9 307.5,174.5 309.7,175.5 312.0,179.7 314.7,180.2 317.0,181.8 319.0,186.5 321.8,189.0 324.7,194.4 325.6,196.0" fill="none" stroke="#1a22f0" stroke-width="1.45" stroke-linejoin="round" stroke-dasharray="8.3 6.7" stroke-linecap="round"/>
<polyline points="50.5,159.2 52.0,159.2 53.5,159.2 55.1,159.2 56.6,159.2 58.1,159.2 59.6,159.2 61.1,159.2 62.7,159.2 64.2,159.2 65.7,159.2 67.2,159.2 68.7,159.2 70.3,159.2 71.8,159.2 73.3,159.2 74.8,159.2 76.3,159.2 77.9,159.2 79.4,159.2 80.9,159.2 82.4,159.2 84.0,159.2 85.5,159.2 87.0,159.2 88.5,159.2 90.0,159.2 91.6,159.2 93.1,159.2 94.6,159.2 96.1,159.2 97.6,159.2 99.2,159.2 100.7,159.2 102.2,159.2 103.7,159.2 105.2,159.2 106.8,159.2 108.3,159.2 109.8,159.2 111.3,159.2 112.8,159.2 114.4,159.2 115.9,159.2 117.4,159.2 119.0,159.0 120.7,158.8 122.3,158.6 124.0,158.4 125.6,158.2 127.2,157.6 128.9,156.9 130.5,156.3 132.2,155.6 133.8,155.0 135.6,154.6 137.5,154.1 139.3,153.7 140.9,152.7 142.5,151.7 144.0,150.7 145.6,149.7 147.2,148.7 148.9,147.5 150.5,146.3 152.2,145.0 154.1,142.9 156.0,140.3 157.9,138.0 160.8,133.9 162.9,133.5 165.1,132.7 167.2,131.6 169.4,130.8 171.1,130.4 172.7,126.8 174.4,126.3 176.2,127.0 178.0,129.0 179.8,128.0 181.6,128.7 183.8,130.7 185.9,130.4 187.9,130.2 190.0,130.2 191.7,131.0 193.3,130.6 195.0,129.4 196.6,129.1 198.3,129.9 199.9,131.1 201.4,131.6 203.0,131.6 204.6,133.7 207.1,138.7 209.0,135.0 210.8,135.1 212.7,134.6 215.2,137.7 217.1,138.5 219.0,138.2 220.9,141.7 222.8,142.1 224.6,142.4 226.4,143.1 228.2,145.2 230.0,147.0 231.8,146.5 233.6,148.6 236.5,150.4 237.9,146.9 240.0,147.6 242.2,150.2 245.0,153.1 247.0,154.2 249.0,154.6 251.0,157.7 253.0,158.4 254.7,158.1 256.3,159.8 258.0,161.4 260.0,163.2 262.0,162.3 264.9,165.0 266.4,167.7 268.0,167.7 270.6,169.9 273.5,174.4 276.3,175.6 279.2,177.9 282.1,181.6 284.5,182.0 287.4,185.0 289.6,190.2 292.5,192.1 294.6,196.5 296.5,202.2 298.9,204.9 300.4,207.8 303.0,213.3 304.8,214.4 306.6,217.5 308.6,220.3 310.7,224.6 312.8,226.0 314.8,226.6 317.5,236.5" fill="none" stroke="#1a22f0" stroke-width="1.45" stroke-linejoin="round" stroke-dasharray="8.3 6.7" stroke-linecap="round"/>
<polyline points="50.5,143.3 52.0,143.2 53.5,143.2 55.0,143.2 56.5,143.1 58.0,143.1 59.6,143.0 61.1,143.0 62.6,142.9 64.1,142.9 65.6,142.8 67.1,142.8 68.6,142.7 70.1,142.7 71.6,142.6 73.2,142.6 74.7,142.5 76.2,142.5 77.7,142.4 79.2,142.4 80.7,142.3 82.2,142.1 83.8,142.0 85.3,141.8 86.9,141.7 88.4,141.5 90.0,141.4 91.5,141.2 93.0,141.1 94.6,140.9 96.1,140.8 97.7,140.6 99.2,140.5 100.7,140.3 102.3,140.2 103.8,140.0 105.4,139.9 106.9,139.7 108.5,139.6 110.0,139.4 111.6,139.0 113.3,138.7 114.9,138.3 116.6,137.9 118.2,137.5 119.9,137.2 121.5,136.8 123.1,136.5 124.8,136.1 126.4,135.8 128.0,135.4 129.6,135.1 131.3,134.7 132.9,134.4 134.8,133.0 136.8,131.5 138.7,130.1 140.6,128.4 142.5,126.8 144.4,125.1 146.6,123.5 148.7,121.9 150.6,120.1 152.4,118.1 154.3,116.5 156.4,116.0 158.6,113.8 160.4,114.3 162.2,114.4 165.1,115.4 166.9,116.1 168.7,116.1 170.4,116.4 172.2,113.7 174.4,110.4 176.5,115.7 179.4,118.0 181.2,116.1 183.0,117.2 185.8,115.3 188.7,113.4 190.0,115.0 192.2,116.2 194.3,116.5 196.4,116.0 198.6,115.5 200.8,115.7 202.9,114.6 205.8,115.3 208.6,119.1 210.7,120.0 213.6,124.1 216.5,126.0 219.3,126.3 220.8,124.7 223.6,128.7 225.8,129.5 228.0,130.8 230.1,134.0 232.2,134.4 235.1,135.3 236.8,138.4 238.5,139.6 240.0,140.2 241.5,140.4 243.2,143.1 245.0,144.2 247.9,144.6 250.8,148.5 253.6,150.3 256.5,150.4 259.4,153.6 262.2,153.7 264.9,155.5 266.4,157.5 268.0,157.4 270.6,158.0 273.5,163.3 276.3,164.7 279.2,168.8 282.1,173.4 284.9,173.7 287.5,176.6 289.1,180.4 290.7,180.6 292.4,183.4 294.0,185.0 295.5,189.1 297.0,190.2 298.6,192.2 300.3,192.4 303.2,197.7 306.1,200.2 308.9,201.0 311.8,202.0 314.7,200.8 317.5,204.3 319.2,206.1 321.0,205.6 322.5,207.8 324.0,209.7 325.6,213.0" fill="none" stroke="#0606e6" stroke-width="2.0" stroke-linejoin="round" />
</g>
<rect x="50.5" y="20.4" width="275.10" height="215.50" fill="none" stroke="#383838" stroke-width="1.15"/>
<line x1="50.50" y1="235.90" x2="50.50" y2="230.40" stroke="#383838" stroke-width="1" />
<line x1="50.50" y1="20.40" x2="50.50" y2="25.90" stroke="#383838" stroke-width="1" />
<line x1="50.50" y1="235.90" x2="56.00" y2="235.90" stroke="#383838" stroke-width="1" />
<line x1="325.60" y1="235.90" x2="320.10" y2="235.90" stroke="#383838" stroke-width="1" />
<line x1="149.52" y1="235.90" x2="149.52" y2="230.40" stroke="#383838" stroke-width="1" />
<line x1="149.52" y1="20.40" x2="149.52" y2="25.90" stroke="#383838" stroke-width="1" />
<line x1="50.50" y1="158.33" x2="56.00" y2="158.33" stroke="#383838" stroke-width="1" />
<line x1="325.60" y1="158.33" x2="320.10" y2="158.33" stroke="#383838" stroke-width="1" />
<line x1="248.55" y1="235.90" x2="248.55" y2="230.40" stroke="#383838" stroke-width="1" />
<line x1="248.55" y1="20.40" x2="248.55" y2="25.90" stroke="#383838" stroke-width="1" />
<line x1="50.50" y1="80.76" x2="56.00" y2="80.76" stroke="#383838" stroke-width="1" />
<line x1="325.60" y1="80.76" x2="320.10" y2="80.76" stroke="#383838" stroke-width="1" />
<line x1="80.31" y1="235.90" x2="80.31" y2="233.10" stroke="#383838" stroke-width="1" />
<line x1="80.31" y1="20.40" x2="80.31" y2="23.20" stroke="#383838" stroke-width="1" />
<line x1="50.50" y1="212.55" x2="53.30" y2="212.55" stroke="#383838" stroke-width="1" />
<line x1="325.60" y1="212.55" x2="322.80" y2="212.55" stroke="#383838" stroke-width="1" />
<line x1="97.75" y1="235.90" x2="97.75" y2="233.10" stroke="#383838" stroke-width="1" />
<line x1="97.75" y1="20.40" x2="97.75" y2="23.20" stroke="#383838" stroke-width="1" />
<line x1="50.50" y1="198.89" x2="53.30" y2="198.89" stroke="#383838" stroke-width="1" />
<line x1="325.60" y1="198.89" x2="322.80" y2="198.89" stroke="#383838" stroke-width="1" />
<line x1="110.12" y1="235.90" x2="110.12" y2="233.10" stroke="#383838" stroke-width="1" />
<line x1="110.12" y1="20.40" x2="110.12" y2="23.20" stroke="#383838" stroke-width="1" />
<line x1="50.50" y1="189.20" x2="53.30" y2="189.20" stroke="#383838" stroke-width="1" />
<line x1="325.60" y1="189.20" x2="322.80" y2="189.20" stroke="#383838" stroke-width="1" />
<line x1="119.71" y1="235.90" x2="119.71" y2="233.10" stroke="#383838" stroke-width="1" />
<line x1="119.71" y1="20.40" x2="119.71" y2="23.20" stroke="#383838" stroke-width="1" />
<line x1="50.50" y1="181.68" x2="53.30" y2="181.68" stroke="#383838" stroke-width="1" />
<line x1="325.60" y1="181.68" x2="322.80" y2="181.68" stroke="#383838" stroke-width="1" />
<line x1="127.55" y1="235.90" x2="127.55" y2="233.10" stroke="#383838" stroke-width="1" />
<line x1="127.55" y1="20.40" x2="127.55" y2="23.20" stroke="#383838" stroke-width="1" />
<line x1="50.50" y1="175.54" x2="53.30" y2="175.54" stroke="#383838" stroke-width="1" />
<line x1="325.60" y1="175.54" x2="322.80" y2="175.54" stroke="#383838" stroke-width="1" />
<line x1="134.18" y1="235.90" x2="134.18" y2="233.10" stroke="#383838" stroke-width="1" />
<line x1="134.18" y1="20.40" x2="134.18" y2="23.20" stroke="#383838" stroke-width="1" />
<line x1="50.50" y1="170.35" x2="53.30" y2="170.35" stroke="#383838" stroke-width="1" />
<line x1="325.60" y1="170.35" x2="322.80" y2="170.35" stroke="#383838" stroke-width="1" />
<line x1="139.93" y1="235.90" x2="139.93" y2="233.10" stroke="#383838" stroke-width="1" />
<line x1="139.93" y1="20.40" x2="139.93" y2="23.20" stroke="#383838" stroke-width="1" />
<line x1="50.50" y1="165.85" x2="53.30" y2="165.85" stroke="#383838" stroke-width="1" />
<line x1="325.60" y1="165.85" x2="322.80" y2="165.85" stroke="#383838" stroke-width="1" />
<line x1="144.99" y1="235.90" x2="144.99" y2="233.10" stroke="#383838" stroke-width="1" />
<line x1="144.99" y1="20.40" x2="144.99" y2="23.20" stroke="#383838" stroke-width="1" />
<line x1="50.50" y1="161.88" x2="53.30" y2="161.88" stroke="#383838" stroke-width="1" />
<line x1="325.60" y1="161.88" x2="322.80" y2="161.88" stroke="#383838" stroke-width="1" />
<line x1="179.33" y1="235.90" x2="179.33" y2="233.10" stroke="#383838" stroke-width="1" />
<line x1="179.33" y1="20.40" x2="179.33" y2="23.20" stroke="#383838" stroke-width="1" />
<line x1="50.50" y1="134.98" x2="53.30" y2="134.98" stroke="#383838" stroke-width="1" />
<line x1="325.60" y1="134.98" x2="322.80" y2="134.98" stroke="#383838" stroke-width="1" />
<line x1="196.77" y1="235.90" x2="196.77" y2="233.10" stroke="#383838" stroke-width="1" />
<line x1="196.77" y1="20.40" x2="196.77" y2="23.20" stroke="#383838" stroke-width="1" />
<line x1="50.50" y1="121.32" x2="53.30" y2="121.32" stroke="#383838" stroke-width="1" />
<line x1="325.60" y1="121.32" x2="322.80" y2="121.32" stroke="#383838" stroke-width="1" />
<line x1="209.14" y1="235.90" x2="209.14" y2="233.10" stroke="#383838" stroke-width="1" />
<line x1="209.14" y1="20.40" x2="209.14" y2="23.20" stroke="#383838" stroke-width="1" />
<line x1="50.50" y1="111.63" x2="53.30" y2="111.63" stroke="#383838" stroke-width="1" />
<line x1="325.60" y1="111.63" x2="322.80" y2="111.63" stroke="#383838" stroke-width="1" />
<line x1="218.74" y1="235.90" x2="218.74" y2="233.10" stroke="#383838" stroke-width="1" />
<line x1="218.74" y1="20.40" x2="218.74" y2="23.20" stroke="#383838" stroke-width="1" />
<line x1="50.50" y1="104.11" x2="53.30" y2="104.11" stroke="#383838" stroke-width="1" />
<line x1="325.60" y1="104.11" x2="322.80" y2="104.11" stroke="#383838" stroke-width="1" />
<line x1="226.58" y1="235.90" x2="226.58" y2="233.10" stroke="#383838" stroke-width="1" />
<line x1="226.58" y1="20.40" x2="226.58" y2="23.20" stroke="#383838" stroke-width="1" />
<line x1="50.50" y1="97.97" x2="53.30" y2="97.97" stroke="#383838" stroke-width="1" />
<line x1="325.60" y1="97.97" x2="322.80" y2="97.97" stroke="#383838" stroke-width="1" />
<line x1="233.21" y1="235.90" x2="233.21" y2="233.10" stroke="#383838" stroke-width="1" />
<line x1="233.21" y1="20.40" x2="233.21" y2="23.20" stroke="#383838" stroke-width="1" />
<line x1="50.50" y1="92.78" x2="53.30" y2="92.78" stroke="#383838" stroke-width="1" />
<line x1="325.60" y1="92.78" x2="322.80" y2="92.78" stroke="#383838" stroke-width="1" />
<line x1="238.95" y1="235.90" x2="238.95" y2="233.10" stroke="#383838" stroke-width="1" />
<line x1="238.95" y1="20.40" x2="238.95" y2="23.20" stroke="#383838" stroke-width="1" />
<line x1="50.50" y1="88.28" x2="53.30" y2="88.28" stroke="#383838" stroke-width="1" />
<line x1="325.60" y1="88.28" x2="322.80" y2="88.28" stroke="#383838" stroke-width="1" />
<line x1="244.01" y1="235.90" x2="244.01" y2="233.10" stroke="#383838" stroke-width="1" />
<line x1="244.01" y1="20.40" x2="244.01" y2="23.20" stroke="#383838" stroke-width="1" />
<line x1="50.50" y1="84.31" x2="53.30" y2="84.31" stroke="#383838" stroke-width="1" />
<line x1="325.60" y1="84.31" x2="322.80" y2="84.31" stroke="#383838" stroke-width="1" />
<line x1="278.35" y1="235.90" x2="278.35" y2="233.10" stroke="#383838" stroke-width="1" />
<line x1="278.35" y1="20.40" x2="278.35" y2="23.20" stroke="#383838" stroke-width="1" />
<line x1="50.50" y1="57.41" x2="53.30" y2="57.41" stroke="#383838" stroke-width="1" />
<line x1="325.60" y1="57.41" x2="322.80" y2="57.41" stroke="#383838" stroke-width="1" />
<line x1="295.79" y1="235.90" x2="295.79" y2="233.10" stroke="#383838" stroke-width="1" />
<line x1="295.79" y1="20.40" x2="295.79" y2="23.20" stroke="#383838" stroke-width="1" />
<line x1="50.50" y1="43.75" x2="53.30" y2="43.75" stroke="#383838" stroke-width="1" />
<line x1="325.60" y1="43.75" x2="322.80" y2="43.75" stroke="#383838" stroke-width="1" />
<line x1="308.16" y1="235.90" x2="308.16" y2="233.10" stroke="#383838" stroke-width="1" />
<line x1="308.16" y1="20.40" x2="308.16" y2="23.20" stroke="#383838" stroke-width="1" />
<line x1="50.50" y1="34.06" x2="53.30" y2="34.06" stroke="#383838" stroke-width="1" />
<line x1="325.60" y1="34.06" x2="322.80" y2="34.06" stroke="#383838" stroke-width="1" />
<line x1="317.76" y1="235.90" x2="317.76" y2="233.10" stroke="#383838" stroke-width="1" />
<line x1="317.76" y1="20.40" x2="317.76" y2="23.20" stroke="#383838" stroke-width="1" />
<line x1="50.50" y1="26.54" x2="53.30" y2="26.54" stroke="#383838" stroke-width="1" />
<line x1="325.60" y1="26.54" x2="322.80" y2="26.54" stroke="#383838" stroke-width="1" />
<text transform="translate(50.00,254.60) scale(0.955,1)" font-size="16.0" font-family="Liberation Serif, serif" text-anchor="middle" font-weight="normal" fill="#000" >0.01</text>
<text transform="translate(42.90,240.30) scale(0.955,1)" font-size="16.0" font-family="Liberation Serif, serif" text-anchor="end" font-weight="normal" fill="#000" >0.01</text>
<text transform="translate(149.02,254.60) scale(0.955,1)" font-size="16.0" font-family="Liberation Serif, serif" text-anchor="middle" font-weight="normal" fill="#000" >0.1</text>
<text transform="translate(43.80,165.43) scale(0.955,1)" font-size="16.0" font-family="Liberation Serif, serif" text-anchor="end" font-weight="normal" fill="#000" >0.1</text>
<text transform="translate(248.05,254.60) scale(0.955,1)" font-size="16.0" font-family="Liberation Serif, serif" text-anchor="middle" font-weight="normal" fill="#000" >1</text>
<text transform="translate(43.90,87.16) scale(0.955,1)" font-size="16.0" font-family="Liberation Serif, serif" text-anchor="end" font-weight="normal" fill="#000" >1</text>
<text transform="translate(325.10,254.60) scale(0.955,1)" font-size="16.0" font-family="Liberation Serif, serif" text-anchor="middle" font-weight="normal" fill="#000" >6</text>
<text transform="translate(44.10,25.50) scale(0.955,1)" font-size="16.0" font-family="Liberation Serif, serif" text-anchor="end" font-weight="normal" fill="#000" >6</text>
<text transform="translate(167.50,274.70) scale(0.955,1)" font-size="16.0" font-family="Liberation Serif, serif" text-anchor="start" font-weight="normal" fill="#000" >Period (s)</text>
<text transform="translate(14.3,200.7) rotate(-90)" font-size="15.5" font-family="Liberation Serif, serif" fill="#000">Spectral acceleration (g)</text>
<text transform="translate(246.28,47.90) scale(0.955,1)" font-size="14.4" font-family="Liberation Serif, serif" text-anchor="middle" font-weight="normal" fill="#000" >Period of interest</text>
<line x1="200.77" y1="53.80" x2="291.79" y2="53.80" stroke="#000" stroke-width="1.5" stroke-opacity="0.45"/>
<path d="M197.37,53.8 l6.6,-2.9 l-1.0,2.9 l1.0,2.9 z" fill="#1a1a1a"/>
<path d="M295.19,53.8 l-6.6,-2.9 l1.0,2.9 l-1.0,2.9 z" fill="#1a1a1a"/>
<rect x="548.93" y="20.40" width="99.13" height="215.50" fill="#FFFBCC"/>
<line x1="548.93" y1="20.40" x2="548.93" y2="235.90" stroke="#9a9a9a" stroke-width="1" stroke-dasharray="3 2"/>
<line x1="648.06" y1="20.40" x2="648.06" y2="235.90" stroke="#9a9a9a" stroke-width="1" stroke-dasharray="3 2"/>
<clipPath id="cp1"><rect x="402.5" y="20.4" width="275.40" height="215.50"/></clipPath>
<g clip-path="url(#cp1)">
<polyline points="402.5,97.5 442.9,97.8 449.3,96.4 457.2,97.8 466.0,96.0 478.0,92.0 485.1,91.0 490.0,88.0 492.6,81.3 496.3,72.6 500.1,71.3 505.1,70.1 510.2,68.8 513.9,70.1 517.7,73.2 521.4,73.8 524.0,68.0 527.7,63.8 531.5,62.5 534.0,63.8 538.4,67.5 542.3,54.0 546.0,62.0 550.0,66.0 556.3,61.1 560.0,68.0 564.8,67.7 570.0,72.0 576.8,69.3 582.0,76.0 588.0,80.0 594.0,84.0 599.3,78.5 604.0,84.0 608.0,90.0 613.0,96.0 618.0,104.0 624.0,110.0 630.0,114.0 636.0,118.0 642.0,122.0 648.0,125.0 654.5,127.6 662.6,130.7 668.0,138.0 673.0,146.0 677.9,152.0" fill="none" stroke="#a4a4a4" stroke-width="0.7" stroke-linejoin="round" />
<polyline points="402.5,101.3 440.0,101.0 460.0,100.0 475.0,98.0 485.0,95.0 492.0,90.0 498.9,81.3 502.6,79.5 507.6,80.1 512.0,82.0 516.0,78.0 520.2,83.9 525.2,68.8 528.0,72.0 532.7,62.5 536.5,73.8 540.0,70.0 544.0,78.0 548.0,72.0 552.0,76.0 556.0,60.5 560.0,70.0 566.0,76.0 572.0,74.0 578.0,80.0 584.0,82.0 590.0,86.0 596.0,84.0 602.0,90.0 608.0,96.0 614.0,102.0 620.0,108.0 626.0,112.0 632.0,118.0 638.0,124.0 644.0,128.0 650.0,132.0 656.0,136.0 662.0,140.0 668.0,146.0 673.0,154.0 677.9,160.0" fill="none" stroke="#a4a4a4" stroke-width="0.7" stroke-linejoin="round" />
<polyline points="402.5,111.4 404.5,111.4 406.5,111.4 408.5,111.4 410.5,111.4 412.5,111.4 414.5,111.4 416.5,111.4 418.5,111.4 420.5,111.4 422.5,111.4 424.5,111.4 426.5,111.4 428.5,111.4 430.5,111.4 432.5,111.4 434.5,111.4 436.5,111.4 438.5,111.4 440.5,111.4 442.5,111.4 444.5,111.4 446.5,111.4 448.5,111.4 450.5,111.4 452.5,111.4 454.5,111.4 456.5,111.4 458.5,111.4 460.5,111.4 462.5,111.4 464.5,111.4 466.5,111.4 468.5,111.4 470.5,111.5 472.5,111.5 474.5,111.5 476.5,111.5 478.5,111.4 480.5,111.3 482.5,111.2 484.5,111.1 486.5,110.9 488.5,110.6 490.5,110.3 492.5,109.9 494.5,109.5 496.5,109.1 498.5,108.8 500.5,108.8 502.5,107.9 504.5,106.9 506.5,106.0 508.5,105.4 510.5,105.3 512.5,105.6 514.5,103.4 516.5,100.6 518.5,98.3 520.5,96.7 522.5,96.3 524.5,97.0 526.5,95.5 528.5,92.1 530.5,89.8 532.5,89.1 534.5,89.7 536.5,92.2 538.5,93.7 540.5,90.9 542.5,89.1 544.5,88.4 546.5,89.1 548.5,91.1 550.5,93.5 552.5,90.0 554.5,87.0 556.5,85.1 558.5,84.7 560.5,85.9 562.5,88.0 564.5,86.4 566.5,83.0 568.5,81.2 570.5,81.3 572.5,82.9 574.5,86.0 576.5,87.2 578.5,85.3 580.5,85.0 582.5,86.0 584.5,88.3 586.5,91.6 588.5,94.7 590.5,92.4 592.5,90.7 594.5,90.1 596.5,91.0 598.5,93.1 600.5,96.5 602.5,95.9 604.5,95.0 606.5,95.5 608.5,97.7 610.5,101.6 612.5,106.7 614.5,109.2 616.5,109.0 618.5,109.7 620.5,111.8 622.5,115.3 624.5,119.8 626.5,123.6 628.5,123.0 630.5,123.2 632.5,124.7 634.5,128.0 636.5,132.6 638.5,138.1 640.5,138.5 642.5,139.0 644.5,140.9 646.5,144.4 648.5,149.4 650.5,155.5 652.5,158.2 654.5,159.2 656.5,161.3 658.5,164.9 660.5,170.1 662.5,176.3 664.5,181.0 666.5,182.0 668.5,183.9 670.5,187.1 672.5,191.4 674.5,196.4 676.5,201.3" fill="none" stroke="#a4a4a4" stroke-width="0.7" stroke-linejoin="round" />
<polyline points="402.5,113.0 404.5,113.0 406.5,113.0 408.5,113.0 410.5,113.0 412.5,113.0 414.5,113.0 416.5,113.0 418.5,113.0 420.5,113.0 422.5,113.0 424.5,113.0 426.5,113.0 428.5,113.0 430.5,113.0 432.5,113.0 434.5,113.0 436.5,113.0 438.5,113.0 440.5,113.0 442.5,113.0 444.5,113.0 446.5,113.0 448.5,113.0 450.5,113.0 452.5,113.0 454.5,113.0 456.5,113.0 458.5,113.0 460.5,113.0 462.5,113.0 464.5,113.0 466.5,113.1 468.5,113.2 470.5,113.3 472.5,113.4 474.5,113.5 476.5,113.6 478.5,113.7 480.5,113.8 482.5,113.9 484.5,113.9 486.5,113.9 488.5,113.8 490.5,113.7 492.5,113.5 494.5,113.3 496.5,113.0 498.5,112.9 500.5,112.6 502.5,111.7 504.5,110.8 506.5,110.2 508.5,110.3 510.5,111.1 512.5,109.1 514.5,107.0 516.5,105.6 518.5,105.2 520.5,106.1 522.5,105.7 524.5,102.4 526.5,100.1 528.5,99.4 530.5,100.7 532.5,103.1 534.5,99.8 536.5,97.1 538.5,95.9 540.5,96.4 542.5,98.4 544.5,98.9 546.5,95.0 548.5,92.5 550.5,91.6 552.5,92.4 554.5,94.4 556.5,91.7 558.5,88.4 560.5,87.1 562.5,87.8 564.5,90.4 566.5,91.8 568.5,88.9 570.5,87.7 572.5,88.5 574.5,91.4 576.5,95.4 578.5,95.4 580.5,94.4 582.5,94.8 584.5,96.8 586.5,99.9 588.5,102.5 590.5,99.5 592.5,97.2 594.5,96.6 596.5,97.8 598.5,100.2 600.5,99.5 602.5,97.5 604.5,97.3 606.5,99.5 608.5,103.8 610.5,109.0 612.5,108.6 614.5,109.4 616.5,112.0 618.5,116.4 620.5,122.3 622.5,125.0 624.5,125.1 626.5,126.6 628.5,129.8 630.5,134.6 632.5,140.4 634.5,139.8 636.5,140.1 638.5,142.1 640.5,145.9 642.5,151.1 644.5,153.8 646.5,153.4 648.5,154.6 650.5,157.7 652.5,162.6 654.5,168.8 656.5,169.3 658.5,170.4 660.5,173.5 662.5,178.5 664.5,185.1 666.5,190.0 668.5,191.3 670.5,194.0 672.5,198.2 674.5,203.6 676.5,209.6" fill="none" stroke="#a4a4a4" stroke-width="0.7" stroke-linejoin="round" />
<polyline points="402.5,114.6 404.5,114.6 406.5,114.6 408.5,114.6 410.5,114.6 412.5,114.6 414.5,114.6 416.5,114.6 418.5,114.6 420.5,114.6 422.5,114.6 424.5,114.6 426.5,114.6 428.5,114.6 430.5,114.6 432.5,114.6 434.5,114.6 436.5,114.6 438.5,114.6 440.5,114.6 442.5,114.6 444.5,114.6 446.5,114.6 448.5,114.6 450.5,114.6 452.5,114.6 454.5,114.6 456.5,114.6 458.5,114.6 460.5,114.6 462.5,114.6 464.5,114.6 466.5,114.5 468.5,114.5 470.5,114.4 472.5,114.3 474.5,114.2 476.5,114.0 478.5,113.8 480.5,113.5 482.5,113.2 484.5,112.8 486.5,112.4 488.5,111.9 490.5,111.4 492.5,110.8 494.5,110.1 496.5,109.5 498.5,108.7 500.5,107.5 502.5,106.4 504.5,105.6 506.5,105.3 508.5,105.6 510.5,103.9 512.5,101.7 514.5,100.0 516.5,99.0 518.5,99.0 520.5,99.9 522.5,97.0 524.5,94.0 526.5,92.0 528.5,91.7 530.5,93.0 532.5,95.2 534.5,91.9 536.5,89.4 538.5,88.2 540.5,88.4 542.5,90.1 544.5,92.5 546.5,89.3 548.5,86.4 550.5,84.6 552.5,84.3 554.5,85.3 556.5,87.2 558.5,83.7 560.5,80.8 562.5,79.3 564.5,79.7 566.5,81.1 568.5,83.9 570.5,81.5 572.5,79.6 574.5,79.5 576.5,81.0 578.5,84.1 580.5,88.6 582.5,87.3 584.5,86.3 586.5,86.4 588.5,87.9 590.5,90.5 592.5,93.7 594.5,91.0 596.5,88.9 598.5,88.2 600.5,89.6 602.5,93.2 604.5,97.9 606.5,96.9 608.5,97.2 610.5,99.1 612.5,102.9 614.5,108.1 616.5,113.9 618.5,113.7 620.5,114.3 622.5,116.2 624.5,119.5 626.5,124.2 628.5,129.3 630.5,128.6 632.5,128.7 634.5,130.3 636.5,133.6 638.5,138.3 640.5,143.5 642.5,143.1 644.5,143.6 646.5,145.7 648.5,149.7 650.5,155.2 652.5,161.2 654.5,161.8 656.5,163.4 658.5,166.7 660.5,171.8 662.5,178.4 664.5,185.1 666.5,186.6 668.5,189.0 670.5,192.8 672.5,197.7 674.5,203.3 676.5,208.5" fill="none" stroke="#a4a4a4" stroke-width="0.7" stroke-linejoin="round" />
<polyline points="402.5,115.8 404.5,115.8 406.5,115.8 408.5,115.8 410.5,115.8 412.5,115.8 414.5,115.8 416.5,115.8 418.5,115.8 420.5,115.8 422.5,115.8 424.5,115.8 426.5,115.8 428.5,115.8 430.5,115.8 432.5,115.8 434.5,115.8 436.5,115.8 438.5,115.8 440.5,115.8 442.5,115.8 444.5,115.8 446.5,115.8 448.5,115.8 450.5,115.8 452.5,115.8 454.5,115.8 456.5,115.8 458.5,115.8 460.5,115.8 462.5,115.8 464.5,115.8 466.5,115.9 468.5,115.9 470.5,116.0 472.5,116.1 474.5,116.2 476.5,116.3 478.5,116.4 480.5,116.4 482.5,116.5 484.5,116.5 486.5,116.4 488.5,116.3 490.5,116.1 492.5,115.9 494.5,115.7 496.5,115.5 498.5,115.1 500.5,114.6 502.5,114.2 504.5,113.9 506.5,114.0 508.5,114.3 510.5,113.9 512.5,112.0 514.5,110.0 516.5,108.0 518.5,106.5 520.5,105.5 522.5,105.3 524.5,105.8 526.5,103.3 528.5,100.3 530.5,98.0 532.5,96.9 534.5,96.7 536.5,98.2 538.5,100.5 540.5,102.1 542.5,99.8 544.5,97.8 546.5,96.5 548.5,96.2 550.5,96.6 552.5,97.5 554.5,98.9 556.5,97.4 558.5,94.2 560.5,91.8 562.5,90.4 564.5,90.1 566.5,90.4 568.5,92.0 570.5,94.5 572.5,92.4 574.5,91.1 576.5,90.6 578.5,91.4 580.5,93.7 582.5,96.9 584.5,100.6 586.5,102.3 588.5,100.9 590.5,99.7 592.5,99.1 594.5,99.4 596.5,100.5 598.5,102.2 600.5,104.9 602.5,104.3 604.5,103.4 606.5,103.4 608.5,104.7 610.5,107.3 612.5,111.2 614.5,115.8 616.5,119.9 618.5,120.1 620.5,120.9 622.5,122.5 624.5,125.1 626.5,128.7 628.5,133.2 630.5,138.3 632.5,140.6 634.5,141.3 636.5,142.6 638.5,144.7 640.5,147.9 642.5,151.9 644.5,156.7 646.5,161.9 648.5,162.4 650.5,163.3 652.5,164.9 654.5,167.7 656.5,171.5 658.5,176.4 660.5,182.2 662.5,186.4 664.5,187.9 666.5,190.1 668.5,193.3 670.5,197.6 672.5,202.6 674.5,207.8 676.5,213.1" fill="none" stroke="#a4a4a4" stroke-width="0.7" stroke-linejoin="round" />
<polyline points="402.5,119.8 404.5,119.8 406.5,119.8 408.5,119.8 410.5,119.8 412.5,119.8 414.5,119.8 416.5,119.8 418.5,119.8 420.5,119.8 422.5,119.8 424.5,119.8 426.5,119.8 428.5,119.8 430.5,119.8 432.5,119.8 434.5,119.8 436.5,119.8 438.5,119.8 440.5,119.8 442.5,119.8 444.5,119.8 446.5,119.8 448.5,119.8 450.5,119.8 452.5,119.8 454.5,119.8 456.5,119.8 458.5,119.8 460.5,119.8 462.5,119.8 464.5,119.8 466.5,119.9 468.5,119.9 470.5,120.0 472.5,120.1 474.5,120.2 476.5,120.3 478.5,120.4 480.5,120.4 482.5,120.5 484.5,120.5 486.5,120.4 488.5,120.3 490.5,120.1 492.5,119.9 494.5,119.7 496.5,119.4 498.5,119.2 500.5,119.2 502.5,119.2 504.5,118.2 506.5,117.1 508.5,116.5 510.5,116.4 512.5,116.9 514.5,115.4 516.5,112.6 518.5,110.4 520.5,109.1 522.5,109.1 524.5,110.3 526.5,106.7 528.5,103.3 530.5,101.5 532.5,101.6 534.5,103.1 536.5,104.8 538.5,101.6 540.5,99.5 542.5,99.0 544.5,100.2 546.5,102.6 548.5,102.6 550.5,99.4 552.5,97.3 554.5,96.9 556.5,98.2 558.5,100.7 560.5,99.0 562.5,96.3 564.5,95.3 566.5,95.5 568.5,97.7 570.5,101.2 572.5,98.6 574.5,97.2 576.5,97.2 578.5,99.1 580.5,102.9 582.5,105.5 584.5,103.5 586.5,102.2 588.5,102.3 590.5,103.8 592.5,106.4 594.5,105.8 596.5,102.7 598.5,101.0 600.5,101.4 602.5,104.3 604.5,108.5 606.5,108.3 608.5,108.0 610.5,109.5 612.5,113.1 614.5,118.4 616.5,124.0 618.5,123.8 620.5,124.5 622.5,126.9 624.5,130.9 626.5,136.3 628.5,140.0 630.5,139.7 632.5,140.6 634.5,143.3 636.5,147.6 638.5,153.3 640.5,155.4 642.5,155.5 644.5,157.0 646.5,160.4 648.5,165.5 650.5,171.7 652.5,172.6 654.5,173.6 656.5,176.2 658.5,180.6 660.5,186.8 662.5,192.9 664.5,193.5 666.5,195.4 668.5,198.8 670.5,204.1 672.5,210.2 674.5,213.7 676.5,213.1" fill="none" stroke="#a4a4a4" stroke-width="0.7" stroke-linejoin="round" />
<polyline points="402.5,121.4 404.5,121.4 406.5,121.4 408.5,121.4 410.5,121.4 412.5,121.4 414.5,121.4 416.5,121.4 418.5,121.4 420.5,121.4 422.5,121.4 424.5,121.4 426.5,121.4 428.5,121.4 430.5,121.4 432.5,121.4 434.5,121.4 436.5,121.4 438.5,121.4 440.5,121.4 442.5,121.4 444.5,121.4 446.5,121.4 448.5,121.4 450.5,121.4 452.5,121.4 454.5,121.4 456.5,121.4 458.5,121.4 460.5,121.4 462.5,121.4 464.5,121.4 466.5,121.3 468.5,121.2 470.5,121.1 472.5,120.9 474.5,120.7 476.5,120.4 478.5,120.1 480.5,119.8 482.5,119.3 484.5,118.9 486.5,118.3 488.5,117.7 490.5,117.0 492.5,116.3 494.5,115.5 496.5,114.7 498.5,113.7 500.5,112.7 502.5,111.9 504.5,111.3 506.5,111.0 508.5,111.0 510.5,109.6 512.5,107.5 514.5,105.4 516.5,103.4 518.5,101.9 520.5,100.9 522.5,100.6 524.5,101.0 526.5,98.1 528.5,94.9 530.5,92.4 532.5,90.9 534.5,90.2 536.5,91.2 538.5,93.0 540.5,94.9 542.5,92.4 544.5,90.2 546.5,88.6 548.5,88.1 550.5,88.4 552.5,89.3 554.5,90.9 556.5,91.9 558.5,89.2 560.5,87.2 562.5,85.8 564.5,85.6 566.5,85.7 568.5,87.1 570.5,89.5 572.5,90.7 574.5,89.0 576.5,87.7 578.5,87.3 580.5,88.3 582.5,90.1 584.5,92.5 586.5,95.2 588.5,95.5 590.5,93.4 592.5,91.5 594.5,90.5 596.5,90.4 598.5,91.2 600.5,93.6 602.5,97.5 604.5,99.0 606.5,99.3 608.5,100.7 610.5,103.1 612.5,106.9 614.5,111.6 616.5,116.9 618.5,122.6 620.5,124.7 622.5,125.9 624.5,127.4 626.5,129.7 628.5,132.8 630.5,136.6 632.5,141.1 634.5,146.1 636.5,146.8 638.5,147.4 640.5,148.7 642.5,150.9 644.5,154.2 646.5,158.5 648.5,163.7 650.5,169.2 652.5,170.5 654.5,172.3 656.5,175.1 658.5,179.0 660.5,184.1 662.5,190.2 664.5,196.9 666.5,203.1 668.5,205.6 670.5,208.5 672.5,211.4 674.5,214.6 676.5,218.1" fill="none" stroke="#a4a4a4" stroke-width="0.7" stroke-linejoin="round" />
<polyline points="402.5,123.8 404.5,123.8 406.5,123.8 408.5,123.8 410.5,123.8 412.5,123.8 414.5,123.8 416.5,123.8 418.5,123.8 420.5,123.8 422.5,123.8 424.5,123.8 426.5,123.8 428.5,123.8 430.5,123.8 432.5,123.8 434.5,123.8 436.5,123.8 438.5,123.8 440.5,123.8 442.5,123.8 444.5,123.8 446.5,123.8 448.5,123.8 450.5,123.8 452.5,123.8 454.5,123.8 456.5,123.8 458.5,123.8 460.5,123.8 462.5,123.8 464.5,123.8 466.5,123.9 468.5,123.9 470.5,124.0 472.5,124.1 474.5,124.2 476.5,124.3 478.5,124.4 480.5,124.4 482.5,124.5 484.5,124.5 486.5,124.4 488.5,124.3 490.5,124.1 492.5,123.9 494.5,123.7 496.5,123.4 498.5,123.4 500.5,123.4 502.5,122.7 504.5,121.8 506.5,121.1 508.5,120.8 510.5,121.0 512.5,121.3 514.5,118.9 516.5,116.3 518.5,114.4 520.5,113.3 522.5,113.2 524.5,114.2 526.5,110.9 528.5,107.6 530.5,105.5 532.5,105.1 534.5,106.0 536.5,108.6 538.5,107.2 540.5,104.5 542.5,103.0 544.5,103.0 546.5,104.2 548.5,106.7 550.5,106.3 552.5,103.1 554.5,100.9 556.5,100.2 558.5,101.1 560.5,103.4 562.5,104.3 564.5,101.6 566.5,99.3 568.5,98.9 570.5,100.4 572.5,103.1 574.5,106.1 576.5,103.9 578.5,102.6 580.5,103.2 582.5,105.1 584.5,108.1 586.5,111.6 588.5,109.2 590.5,107.0 592.5,105.7 594.5,105.9 596.5,107.5 598.5,109.9 600.5,108.7 602.5,107.3 604.5,107.4 606.5,109.5 608.5,113.4 610.5,118.7 612.5,121.5 614.5,121.9 616.5,123.5 618.5,126.5 620.5,130.9 622.5,136.4 624.5,140.3 626.5,140.4 628.5,141.4 630.5,143.8 632.5,147.6 634.5,152.8 636.5,157.7 638.5,157.7 640.5,158.5 642.5,160.7 644.5,164.5 646.5,169.6 648.5,175.6 650.5,176.2 652.5,177.2 654.5,179.7 656.5,183.7 658.5,189.3 660.5,196.0 662.5,198.3 664.5,199.7 666.5,202.4 668.5,206.6 670.5,212.4 672.5,218.5 674.5,221.0 676.5,220.7" fill="none" stroke="#a4a4a4" stroke-width="0.7" stroke-linejoin="round" />
<polyline points="402.5,128.7 404.5,128.7 406.5,128.7 408.5,128.7 410.5,128.7 412.5,128.7 414.5,128.7 416.5,128.7 418.5,128.7 420.5,128.7 422.5,128.7 424.5,128.7 426.5,128.7 428.5,128.7 430.5,128.7 432.5,128.7 434.5,128.7 436.5,128.7 438.5,128.7 440.5,128.7 442.5,128.7 444.5,128.7 446.5,128.7 448.5,128.7 450.5,128.7 452.5,128.7 454.5,128.7 456.5,128.7 458.5,128.7 460.5,128.7 462.5,128.7 464.5,128.7 466.5,128.6 468.5,128.5 470.5,128.4 472.5,128.3 474.5,128.1 476.5,127.8 478.5,127.5 480.5,127.2 482.5,126.8 484.5,126.3 486.5,125.8 488.5,125.2 490.5,124.6 492.5,123.9 494.5,123.2 496.5,122.3 498.5,121.5 500.5,120.7 502.5,120.2 504.5,120.0 506.5,119.1 508.5,117.3 510.5,115.3 512.5,113.5 514.5,112.0 516.5,111.0 518.5,110.6 520.5,110.7 522.5,107.4 524.5,104.4 526.5,102.2 528.5,101.0 530.5,101.1 532.5,102.4 534.5,104.1 536.5,104.4 538.5,102.3 540.5,100.6 542.5,99.6 544.5,99.4 546.5,100.0 548.5,101.4 550.5,103.0 552.5,99.7 554.5,96.4 556.5,93.8 558.5,92.4 560.5,92.3 562.5,93.3 564.5,95.2 566.5,95.0 568.5,92.6 570.5,91.4 572.5,91.2 574.5,92.5 576.5,94.8 578.5,98.0 580.5,102.2 582.5,102.1 584.5,101.4 586.5,101.0 588.5,101.2 590.5,102.0 592.5,103.4 594.5,105.3 596.5,105.7 598.5,102.8 600.5,101.1 602.5,101.2 604.5,102.7 606.5,105.7 608.5,110.0 610.5,115.1 612.5,116.9 614.5,118.1 616.5,120.2 618.5,123.2 620.5,127.3 622.5,132.3 624.5,137.8 626.5,142.2 628.5,143.1 630.5,144.3 632.5,146.2 634.5,149.1 636.5,153.0 638.5,157.6 640.5,162.7 642.5,164.2 644.5,164.7 646.5,166.0 648.5,168.5 650.5,172.3 652.5,177.1 654.5,182.8 656.5,188.2 658.5,190.0 660.5,192.6 662.5,196.2 664.5,200.8 666.5,206.7 668.5,213.4 670.5,220.6 672.5,223.8 674.5,225.0 676.5,226.2" fill="none" stroke="#a4a4a4" stroke-width="0.7" stroke-linejoin="round" />
<polyline points="402.5,129.8 404.5,129.8 406.5,129.8 408.5,129.8 410.5,129.8 412.5,129.8 414.5,129.8 416.5,129.8 418.5,129.8 420.5,129.8 422.5,129.8 424.5,129.8 426.5,129.8 428.5,129.8 430.5,129.8 432.5,129.8 434.5,129.8 436.5,129.8 438.5,129.8 440.5,129.8 442.5,129.8 444.5,129.8 446.5,129.8 448.5,129.8 450.5,129.8 452.5,129.8 454.5,129.8 456.5,129.8 458.5,129.8 460.5,129.8 462.5,129.8 464.5,129.8 466.5,129.8 468.5,129.9 470.5,129.9 472.5,130.0 474.5,130.0 476.5,130.1 478.5,130.1 480.5,130.1 482.5,130.0 484.5,129.9 486.5,129.8 488.5,129.6 490.5,129.3 492.5,129.0 494.5,128.7 496.5,128.2 498.5,127.7 500.5,127.5 502.5,127.5 504.5,126.5 506.5,125.5 508.5,124.5 510.5,123.6 512.5,123.2 514.5,123.2 516.5,123.5 518.5,123.1 520.5,120.5 522.5,117.8 524.5,115.6 526.5,114.1 528.5,113.6 530.5,114.0 532.5,115.0 534.5,113.7 536.5,110.9 538.5,108.7 540.5,107.3 542.5,106.8 544.5,107.3 546.5,108.6 548.5,110.6 550.5,109.5 552.5,106.9 554.5,104.8 556.5,103.7 558.5,103.6 560.5,104.8 562.5,106.6 564.5,109.0 566.5,107.0 568.5,104.9 570.5,103.7 572.5,103.5 574.5,104.4 576.5,106.1 578.5,108.6 580.5,111.9 582.5,110.5 584.5,109.3 586.5,108.5 588.5,108.3 590.5,109.0 592.5,110.4 594.5,112.5 596.5,114.1 598.5,111.9 600.5,110.7 602.5,110.7 604.5,112.0 606.5,114.7 608.5,118.5 610.5,123.1 612.5,126.7 614.5,127.1 616.5,127.9 618.5,129.2 620.5,131.4 622.5,134.4 624.5,138.0 626.5,142.1 628.5,143.8 630.5,143.3 632.5,143.4 634.5,144.5 636.5,146.6 638.5,149.9 640.5,154.0 642.5,158.8 644.5,160.6 646.5,161.3 648.5,162.9 650.5,165.5 652.5,169.1 654.5,173.8 656.5,179.2 658.5,185.2 660.5,187.4 662.5,189.0 664.5,191.2 666.5,194.3 668.5,198.3 670.5,203.3 672.5,208.5 674.5,213.5 676.5,213.2" fill="none" stroke="#a4a4a4" stroke-width="0.7" stroke-linejoin="round" />
<polyline points="402.5,136.3 404.5,136.3 406.5,136.3 408.5,136.3 410.5,136.3 412.5,136.3 414.5,136.3 416.5,136.3 418.5,136.3 420.5,136.3 422.5,136.3 424.5,136.3 426.5,136.3 428.5,136.3 430.5,136.3 432.5,136.3 434.5,136.3 436.5,136.3 438.5,136.3 440.5,136.3 442.5,136.3 444.5,136.3 446.5,136.3 448.5,136.3 450.5,136.3 452.5,136.3 454.5,136.3 456.5,136.3 458.5,136.3 460.5,136.3 462.5,136.3 464.5,136.3 466.5,136.3 468.5,136.4 470.5,136.4 472.5,136.4 474.5,136.5 476.5,136.5 478.5,136.5 480.5,136.5 482.5,136.4 484.5,136.3 486.5,136.1 488.5,135.9 490.5,135.6 492.5,135.3 494.5,135.0 496.5,134.5 498.5,134.1 500.5,134.2 502.5,133.6 504.5,132.6 506.5,131.8 508.5,131.5 510.5,131.8 512.5,132.0 514.5,129.4 516.5,127.0 518.5,125.3 520.5,124.8 522.5,125.5 524.5,123.4 526.5,119.6 528.5,117.0 530.5,116.4 532.5,117.7 534.5,119.5 536.5,116.1 538.5,113.8 540.5,113.2 542.5,114.4 544.5,117.0 546.5,117.1 548.5,114.2 550.5,112.5 552.5,112.3 554.5,113.8 556.5,116.4 558.5,113.5 560.5,110.8 562.5,109.7 564.5,110.6 566.5,112.5 568.5,113.6 570.5,110.6 572.5,109.0 574.5,109.5 576.5,111.6 578.5,115.2 580.5,114.9 582.5,113.3 584.5,113.2 586.5,114.6 588.5,117.3 590.5,120.0 592.5,117.0 594.5,115.1 596.5,114.9 598.5,116.6 600.5,120.2 602.5,121.4 604.5,120.4 606.5,121.3 608.5,124.3 610.5,129.2 612.5,135.5 614.5,135.6 616.5,136.2 618.5,138.3 620.5,142.1 622.5,147.3 624.5,150.5 626.5,149.8 628.5,150.3 630.5,152.6 632.5,156.5 634.5,161.9 636.5,162.3 638.5,162.3 640.5,163.9 642.5,167.5 644.5,172.9 646.5,177.8 648.5,178.1 650.5,179.7 652.5,183.2 654.5,188.6 656.5,195.5 658.5,198.9 660.5,200.5 662.5,203.6 664.5,208.3 666.5,214.9 668.5,222.0 670.5,223.0 672.5,224.3 674.5,226.8 676.5,230.4" fill="none" stroke="#a4a4a4" stroke-width="0.7" stroke-linejoin="round" />
<polyline points="446.5,97.5 448.5,97.5 450.5,97.5 452.5,97.5 454.5,97.5 456.5,97.5 458.5,97.5 460.5,97.5 462.5,97.5 464.5,97.5 466.5,97.6 468.5,97.6 470.5,97.7 472.5,97.8 474.5,97.9 476.5,98.0 478.5,98.1 480.5,98.2 482.5,98.2 484.5,98.2 486.5,98.2 488.5,98.1 490.5,98.0 492.5,97.8 494.5,97.6 496.5,97.2 498.5,97.0 500.5,97.0 502.5,97.3 504.5,96.4 506.5,95.4 508.5,94.5 510.5,94.1 512.5,94.2 514.5,94.8 516.5,92.6 518.5,89.8 520.5,87.4 522.5,86.0 524.5,85.8 526.5,86.8 528.5,85.2 530.5,81.6 532.5,79.2 534.5,78.0 536.5,79.0 538.5,81.2 540.5,82.0 542.5,78.9 544.5,76.8 546.5,75.9 548.5,76.7 550.5,78.6 552.5,80.6 554.5,77.1 556.5,74.5 558.5,73.2 560.5,73.7 562.5,75.5 564.5,78.4 566.5,76.3 568.5,74.0 570.5,73.2 572.5,74.0 574.5,76.5 576.5,79.8 578.5,80.5 580.5,79.1 582.5,78.7 584.5,79.5 586.5,81.3 588.5,83.9 590.5,85.3 592.5,82.3 594.5,80.0 596.5,79.1 598.5,79.6 600.5,82.0 602.5,85.8 604.5,84.2 606.5,83.7 608.5,85.0 610.5,88.1 612.5,92.9 614.5,98.6 616.5,100.3 618.5,100.8 620.5,102.5 622.5,105.6 624.5,110.0 626.5,115.4 628.5,118.3 630.5,118.3 632.5,119.2 634.5,121.7 636.5,125.6 638.5,130.7 640.5,135.1 642.5,135.0 644.5,135.7 646.5,137.9 648.5,141.7 650.5,146.8 652.5,152.8 654.5,153.4 656.5,154.5 658.5,156.9 660.5,161.1 662.5,166.6 664.5,173.0 666.5,175.8 668.5,177.2 670.5,179.8 672.5,183.4 674.5,187.9 676.5,193.0" fill="none" stroke="#a4a4a4" stroke-width="0.7" stroke-linejoin="round" />
<polyline points="446.5,113.0 448.5,113.0 450.5,113.0 452.5,113.0 454.5,113.0 456.5,113.0 458.5,113.0 460.5,113.0 462.5,113.0 464.5,113.0 466.5,112.9 468.5,112.8 470.5,112.7 472.5,112.5 474.5,112.3 476.5,112.1 478.5,111.8 480.5,111.4 482.5,111.0 484.5,110.6 486.5,110.0 488.5,109.4 490.5,108.8 492.5,108.1 494.5,107.3 496.5,106.5 498.5,105.9 500.5,105.5 502.5,104.5 504.5,103.2 506.5,101.7 508.5,100.4 510.5,99.2 512.5,98.5 514.5,98.1 516.5,97.8 518.5,94.8 520.5,91.7 522.5,89.0 524.5,87.1 526.5,86.2 528.5,86.5 530.5,87.7 532.5,88.2 534.5,85.2 536.5,83.3 538.5,82.3 540.5,82.1 542.5,82.9 544.5,84.4 546.5,86.3 548.5,86.4 550.5,83.8 552.5,81.6 554.5,80.0 556.5,79.3 558.5,79.6 560.5,80.9 562.5,82.8 564.5,81.9 566.5,79.0 568.5,77.1 570.5,76.5 572.5,76.9 574.5,78.6 576.5,80.8 578.5,83.8 580.5,83.4 582.5,82.4 584.5,81.9 586.5,81.9 588.5,82.6 590.5,84.1 592.5,86.1 594.5,88.4 596.5,86.0 598.5,84.0 600.5,83.4 602.5,84.3 604.5,86.5 606.5,90.1 608.5,94.6 610.5,98.9 612.5,99.7 614.5,101.0 616.5,102.9 618.5,105.7 620.5,109.3 622.5,113.6 624.5,118.4 626.5,121.4 628.5,121.6 630.5,122.1 632.5,123.3 634.5,125.5 636.5,128.7 638.5,132.7 640.5,137.3 642.5,139.3 644.5,139.5 646.5,140.5 648.5,142.5 650.5,145.7 652.5,149.8 654.5,155.0 656.5,160.8 658.5,163.3 660.5,165.2 662.5,167.9 664.5,171.4 666.5,176.0 668.5,181.6 670.5,188.0 672.5,194.3 674.5,195.6 676.5,196.4" fill="none" stroke="#a4a4a4" stroke-width="0.7" stroke-linejoin="round" />
<polyline points="446.5,119.8 448.5,119.8 450.5,119.8 452.5,119.8 454.5,119.8 456.5,119.8 458.5,119.8 460.5,119.8 462.5,119.8 464.5,119.8 466.5,119.8 468.5,119.7 470.5,119.6 472.5,119.6 474.5,119.4 476.5,119.3 478.5,119.1 480.5,118.9 482.5,118.6 484.5,118.2 486.5,117.8 488.5,117.4 490.5,116.9 492.5,116.3 494.5,115.7 496.5,115.1 498.5,114.2 500.5,113.2 502.5,112.1 504.5,111.3 506.5,110.8 508.5,110.8 510.5,110.5 512.5,108.4 514.5,106.3 516.5,104.5 518.5,103.2 520.5,102.8 522.5,103.1 524.5,104.0 526.5,100.9 528.5,98.3 530.5,96.4 532.5,95.7 534.5,95.8 536.5,97.6 538.5,99.9 540.5,97.5 542.5,94.9 544.5,93.0 546.5,92.0 548.5,92.2 550.5,93.2 552.5,94.6 554.5,92.5 556.5,89.2 558.5,86.7 560.5,85.7 562.5,85.8 564.5,87.2 566.5,88.8 568.5,88.6 570.5,86.6 572.5,85.4 574.5,85.6 576.5,86.9 578.5,89.5 580.5,93.3 582.5,95.8 584.5,94.7 586.5,93.9 588.5,93.7 590.5,94.5 592.5,96.1 594.5,98.4 596.5,100.4 598.5,97.9 600.5,96.6 602.5,97.1 604.5,99.0 606.5,102.4 608.5,107.0 610.5,112.3 612.5,113.2 614.5,114.2 616.5,116.0 618.5,118.8 620.5,122.6 622.5,127.3 624.5,132.6 626.5,133.9 628.5,134.3 630.5,135.4 632.5,137.6 634.5,141.0 636.5,145.5 638.5,150.8 640.5,153.4 642.5,154.1 644.5,155.7 646.5,158.4 648.5,162.5 650.5,167.9 652.5,174.0 654.5,178.6 656.5,180.4 658.5,183.0 660.5,186.9 662.5,191.9 664.5,197.8 666.5,204.8 668.5,211.0 670.5,213.1 672.5,215.0 674.5,217.2 676.5,219.9" fill="none" stroke="#a4a4a4" stroke-width="0.7" stroke-linejoin="round" />
<polyline points="446.5,126.3 448.5,126.3 450.5,126.3 452.5,126.3 454.5,126.3 456.5,126.3 458.5,126.3 460.5,126.3 462.5,126.3 464.5,126.3 466.5,126.3 468.5,126.3 470.5,126.3 472.5,126.3 474.5,126.3 476.5,126.2 478.5,126.2 480.5,126.1 482.5,125.9 484.5,125.7 486.5,125.5 488.5,125.2 490.5,124.8 492.5,124.4 494.5,124.0 496.5,123.6 498.5,122.9 500.5,122.0 502.5,121.2 504.5,120.6 506.5,120.4 508.5,120.5 510.5,119.0 512.5,116.9 514.5,115.0 516.5,113.6 518.5,112.9 520.5,113.1 522.5,114.0 524.5,111.4 526.5,108.7 528.5,106.7 530.5,106.1 532.5,106.7 534.5,107.9 536.5,110.4 538.5,107.6 540.5,105.1 542.5,103.4 544.5,102.7 546.5,103.1 548.5,104.5 550.5,105.8 552.5,102.0 554.5,98.8 556.5,96.6 558.5,95.9 560.5,96.7 562.5,98.5 564.5,100.2 566.5,97.2 568.5,95.4 570.5,95.0 572.5,96.1 574.5,98.6 576.5,102.0 578.5,104.7 580.5,103.8 582.5,103.5 584.5,103.9 586.5,105.1 588.5,107.0 590.5,109.5 592.5,110.3 594.5,107.4 596.5,105.2 598.5,103.9 600.5,104.3 602.5,106.1 604.5,109.2 606.5,110.8 608.5,109.9 610.5,110.1 612.5,111.9 614.5,114.9 616.5,119.1 618.5,124.1 620.5,126.8 622.5,127.0 624.5,127.9 626.5,129.8 628.5,132.9 630.5,136.9 632.5,141.6 634.5,143.5 636.5,143.3 638.5,143.9 640.5,145.6 642.5,148.4 644.5,152.3 646.5,157.0 648.5,158.4 650.5,158.5 652.5,159.5 654.5,161.8 656.5,165.5 658.5,170.4 660.5,176.4 662.5,178.6 664.5,179.8 666.5,182.2 668.5,185.8 670.5,190.9 672.5,196.8 674.5,202.9 676.5,204.0" fill="none" stroke="#a4a4a4" stroke-width="0.7" stroke-linejoin="round" />
<polyline points="446.5,117.7 448.5,117.7 450.5,117.7 452.5,117.7 454.5,117.7 456.5,117.7 458.5,117.7 460.5,117.7 462.5,117.7 464.5,117.7 466.5,117.6 468.5,117.4 470.5,117.3 472.5,117.0 474.5,116.8 476.5,116.4 478.5,116.1 480.5,115.6 482.5,115.1 484.5,114.5 486.5,113.9 488.5,113.1 490.5,112.4 492.5,111.5 494.5,110.7 496.5,109.6 498.5,108.4 500.5,107.3 502.5,106.6 504.5,106.3 506.5,105.6 508.5,103.9 510.5,102.1 512.5,100.6 514.5,99.5 516.5,99.0 518.5,99.1 520.5,98.4 522.5,95.0 524.5,92.0 526.5,89.8 528.5,88.7 530.5,88.8 532.5,89.9 534.5,90.0 536.5,86.9 538.5,84.5 540.5,83.1 542.5,82.9 544.5,83.8 546.5,85.5 548.5,87.1 550.5,84.3 552.5,81.9 554.5,80.3 556.5,80.0 558.5,80.9 560.5,83.0 562.5,85.2 564.5,82.7 566.5,80.3 568.5,79.0 570.5,79.3 572.5,80.8 574.5,83.4 576.5,86.3 578.5,84.5 580.5,83.4 582.5,83.1 584.5,83.8 586.5,85.3 588.5,87.5 590.5,90.1 592.5,88.2 594.5,86.0 596.5,84.7 598.5,84.6 600.5,86.3 602.5,89.8 604.5,94.4 606.5,95.3 608.5,95.9 610.5,97.5 612.5,100.6 614.5,104.7 616.5,109.7 618.5,115.1 620.5,117.0 622.5,117.4 624.5,118.5 626.5,120.5 628.5,123.5 630.5,127.5 632.5,132.2 634.5,134.0 636.5,134.1 638.5,135.2 640.5,137.4 642.5,140.9 644.5,145.7 646.5,151.3 648.5,154.7 650.5,156.1 652.5,158.3 654.5,161.7 656.5,166.4 658.5,172.3 660.5,179.1 662.5,183.9 664.5,185.8 666.5,188.4 668.5,191.9 670.5,196.6 672.5,201.5 674.5,206.6 676.5,209.6" fill="none" stroke="#a4a4a4" stroke-width="0.7" stroke-linejoin="round" />
<polyline points="446.5,117.7 448.5,117.7 450.5,117.7 452.5,117.7 454.5,117.7 456.5,117.7 458.5,117.7 460.5,117.7 462.5,117.7 464.5,117.7 466.5,117.7 468.5,117.8 470.5,117.8 472.5,117.9 474.5,117.9 476.5,118.0 478.5,118.0 480.5,118.0 482.5,117.9 484.5,117.8 486.5,117.7 488.5,117.5 490.5,117.3 492.5,117.0 494.5,116.7 496.5,116.2 498.5,115.7 500.5,115.3 502.5,115.1 504.5,115.2 506.5,114.0 508.5,112.5 510.5,111.0 512.5,109.8 514.5,109.1 516.5,109.0 518.5,109.5 520.5,107.5 522.5,104.6 524.5,102.3 526.5,101.0 528.5,100.9 530.5,102.1 532.5,104.0 534.5,102.9 536.5,100.5 538.5,98.8 540.5,97.9 542.5,98.0 544.5,99.0 546.5,100.5 548.5,100.5 550.5,97.2 552.5,94.2 554.5,92.2 556.5,91.4 558.5,91.7 560.5,93.3 562.5,94.4 564.5,91.7 566.5,89.1 568.5,88.1 570.5,88.7 572.5,90.5 574.5,93.6 576.5,97.2 578.5,96.0 580.5,95.7 582.5,96.1 584.5,97.5 586.5,99.4 588.5,102.0 590.5,104.8 592.5,103.4 594.5,101.1 596.5,99.4 598.5,98.7 600.5,99.6 602.5,102.2 604.5,105.7 606.5,106.7 608.5,106.3 610.5,107.0 612.5,109.1 614.5,112.4 616.5,116.8 618.5,121.9 620.5,125.1 622.5,125.6 624.5,126.7 626.5,128.8 628.5,132.0 630.5,136.2 632.5,141.1 634.5,145.5 636.5,145.9 638.5,146.9 640.5,148.8 642.5,151.8 644.5,155.8 646.5,160.8 648.5,166.2 650.5,166.7 652.5,167.7 654.5,169.7 656.5,172.9 658.5,177.4 660.5,183.0 662.5,189.2 664.5,191.2 666.5,192.9 668.5,195.6 670.5,199.4 672.5,203.9 674.5,208.9 676.5,214.0" fill="none" stroke="#a4a4a4" stroke-width="0.7" stroke-linejoin="round" />
<polyline points="446.5,111.4 448.5,111.4 450.5,111.4 452.5,111.4 454.5,111.4 456.5,111.4 458.5,111.4 460.5,111.4 462.5,111.4 464.5,111.4 466.5,111.3 468.5,111.2 470.5,111.1 472.5,110.9 474.5,110.7 476.5,110.4 478.5,110.1 480.5,109.8 482.5,109.3 484.5,108.9 486.5,108.3 488.5,107.7 490.5,107.0 492.5,106.3 494.5,105.5 496.5,104.6 498.5,104.0 500.5,102.9 502.5,101.5 504.5,100.3 506.5,99.4 508.5,99.1 510.5,99.4 512.5,97.6 514.5,95.2 516.5,93.3 518.5,92.2 520.5,92.1 522.5,93.0 524.5,90.7 526.5,87.5 528.5,85.3 530.5,84.6 532.5,85.5 534.5,87.0 536.5,85.4 538.5,82.4 540.5,80.4 542.5,80.0 544.5,81.0 546.5,83.0 548.5,81.6 550.5,78.3 552.5,76.0 554.5,75.3 556.5,76.2 558.5,78.3 560.5,77.7 562.5,75.0 564.5,73.7 566.5,73.5 568.5,75.3 570.5,78.6 572.5,79.4 574.5,77.8 576.5,77.1 578.5,78.2 580.5,81.2 582.5,85.1 584.5,86.5 586.5,84.5 588.5,83.1 590.5,82.9 592.5,84.1 594.5,86.2 596.5,86.5 598.5,83.2 600.5,81.6 602.5,82.2 604.5,84.7 606.5,88.8 608.5,92.0 610.5,91.7 612.5,92.8 614.5,95.5 616.5,99.8 618.5,105.2 620.5,109.7 622.5,109.8 624.5,110.9 626.5,113.3 628.5,117.2 630.5,122.3 632.5,126.7 634.5,126.4 636.5,127.1 638.5,129.2 640.5,132.8 642.5,137.7 644.5,142.3 646.5,142.0 648.5,142.7 650.5,145.0 652.5,148.9 654.5,154.2 656.5,159.9 658.5,160.4 660.5,162.1 662.5,165.2 664.5,169.9 666.5,176.2 668.5,183.1 670.5,184.5 672.5,186.2 674.5,188.7 676.5,192.3" fill="none" stroke="#a4a4a4" stroke-width="0.7" stroke-linejoin="round" />
<polyline points="446.5,123.8 448.5,123.8 450.5,123.8 452.5,123.8 454.5,123.8 456.5,123.8 458.5,123.8 460.5,123.8 462.5,123.8 464.5,123.8 466.5,123.7 468.5,123.5 470.5,123.4 472.5,123.1 474.5,122.9 476.5,122.5 478.5,122.1 480.5,121.7 482.5,121.2 484.5,120.6 486.5,119.9 488.5,119.2 490.5,118.4 492.5,117.6 494.5,116.7 496.5,115.8 498.5,114.7 500.5,113.5 502.5,112.4 504.5,111.5 506.5,111.1 508.5,111.0 510.5,110.0 512.5,107.8 514.5,105.7 516.5,103.8 518.5,102.6 520.5,102.2 522.5,102.5 524.5,101.7 526.5,98.4 528.5,95.6 530.5,93.8 532.5,93.1 534.5,93.4 536.5,95.1 538.5,96.0 540.5,93.0 542.5,90.5 544.5,88.9 546.5,88.3 548.5,89.1 550.5,90.4 552.5,91.7 554.5,88.3 556.5,85.4 558.5,83.6 560.5,83.3 562.5,84.2 564.5,86.2 566.5,88.4 568.5,86.3 570.5,84.8 572.5,84.2 574.5,85.1 576.5,87.0 578.5,90.0 580.5,94.1 582.5,94.3 584.5,93.4 586.5,92.9 588.5,93.1 590.5,94.2 592.5,96.0 594.5,98.3 596.5,97.6 598.5,95.0 600.5,93.9 602.5,94.8 604.5,97.1 606.5,100.9 608.5,105.8 610.5,108.9 612.5,109.7 614.5,111.2 616.5,113.7 618.5,117.2 620.5,121.8 622.5,127.1 624.5,131.3 626.5,131.8 628.5,133.0 630.5,135.0 632.5,138.2 634.5,142.7 636.5,148.0 638.5,153.3 640.5,154.1 642.5,155.6 644.5,158.0 646.5,161.7 648.5,166.7 650.5,172.8 652.5,179.4 654.5,181.2 656.5,183.5 658.5,186.7 660.5,191.3 662.5,196.9 664.5,203.4 666.5,210.6 668.5,213.7 670.5,216.0 672.5,218.2 674.5,220.8 676.5,224.0" fill="none" stroke="#a4a4a4" stroke-width="0.7" stroke-linejoin="round" />
<polyline points="446.5,126.3 448.5,126.3 450.5,126.3 452.5,126.3 454.5,126.3 456.5,126.3 458.5,126.3 460.5,126.3 462.5,126.3 464.5,126.3 466.5,126.4 468.5,126.4 470.5,126.5 472.5,126.6 474.5,126.7 476.5,126.7 478.5,126.8 480.5,126.9 482.5,126.9 484.5,126.8 486.5,126.7 488.5,126.6 490.5,126.4 492.5,126.2 494.5,126.0 496.5,125.7 498.5,125.3 500.5,124.7 502.5,124.4 504.5,124.5 506.5,124.5 508.5,122.8 510.5,121.2 512.5,120.2 514.5,120.0 516.5,120.6 518.5,118.0 520.5,114.8 522.5,112.5 524.5,112.0 526.5,113.1 528.5,113.0 530.5,109.3 532.5,107.0 534.5,106.4 536.5,108.4 538.5,111.6 540.5,109.0 542.5,106.5 544.5,105.6 546.5,106.6 548.5,109.2 550.5,109.4 552.5,105.9 554.5,103.7 556.5,103.4 558.5,104.9 560.5,107.8 562.5,104.7 564.5,102.2 566.5,101.0 568.5,102.2 570.5,105.2 572.5,105.7 574.5,103.5 576.5,102.5 578.5,103.7 580.5,107.0 582.5,111.4 584.5,109.0 586.5,107.3 588.5,107.1 590.5,108.5 592.5,111.2 594.5,110.8 596.5,107.8 598.5,106.2 600.5,107.0 602.5,110.0 604.5,114.0 606.5,112.3 608.5,112.2 610.5,114.2 612.5,118.4 614.5,124.1 616.5,126.2 618.5,126.2 620.5,127.6 622.5,130.8 624.5,135.7 626.5,140.6 628.5,139.8 630.5,140.0 632.5,141.9 634.5,145.8 636.5,151.1 638.5,152.4 640.5,152.0 642.5,153.1 644.5,156.2 646.5,161.0 648.5,165.7 650.5,165.2 652.5,166.0 654.5,168.7 656.5,173.4 658.5,179.6 660.5,181.6 662.5,182.4 664.5,184.8 666.5,189.2 668.5,195.3 670.5,200.8 672.5,201.3 674.5,202.5 676.5,204.9" fill="none" stroke="#a4a4a4" stroke-width="0.7" stroke-linejoin="round" />
<polyline points="446.5,114.6 448.5,114.6 450.5,114.6 452.5,114.6 454.5,114.6 456.5,114.6 458.5,114.6 460.5,114.6 462.5,114.6 464.5,114.6 466.5,114.7 468.5,114.8 470.5,115.0 472.5,115.1 474.5,115.3 476.5,115.5 478.5,115.7 480.5,115.9 482.5,116.0 484.5,116.1 486.5,116.2 488.5,116.3 490.5,116.3 492.5,116.2 494.5,116.1 496.5,116.2 498.5,116.1 500.5,115.7 502.5,115.2 504.5,114.8 506.5,114.6 508.5,114.7 510.5,115.0 512.5,114.6 514.5,112.4 516.5,110.1 518.5,108.0 520.5,106.4 522.5,105.5 524.5,105.5 526.5,106.4 528.5,104.5 530.5,101.7 532.5,99.6 534.5,98.4 536.5,98.9 538.5,100.4 540.5,102.5 542.5,104.5 544.5,102.1 546.5,99.8 548.5,98.4 550.5,97.7 552.5,97.6 554.5,98.3 556.5,99.5 558.5,98.8 560.5,95.9 562.5,93.4 564.5,92.0 566.5,91.2 568.5,91.9 570.5,93.8 572.5,96.4 574.5,95.6 576.5,94.2 578.5,93.7 580.5,94.7 582.5,96.8 584.5,99.6 586.5,102.8 588.5,105.2 590.5,103.5 592.5,101.9 594.5,101.0 596.5,101.0 598.5,101.9 600.5,104.1 602.5,107.5 604.5,108.8 606.5,108.3 608.5,108.7 610.5,110.2 612.5,113.1 614.5,116.9 616.5,121.4 618.5,126.3 620.5,127.0 622.5,127.5 624.5,128.8 626.5,130.9 628.5,134.1 630.5,138.3 632.5,143.1 634.5,147.2 636.5,147.8 638.5,149.0 640.5,151.1 642.5,154.1 644.5,158.2 646.5,163.1 648.5,168.7 650.5,171.5 652.5,172.7 654.5,174.5 656.5,177.3 658.5,181.2 660.5,186.2 662.5,191.9 664.5,198.0 666.5,199.5 668.5,201.4 670.5,204.1 672.5,207.2 674.5,210.9 676.5,214.9" fill="none" stroke="#a4a4a4" stroke-width="0.7" stroke-linejoin="round" />
<polyline points="598.0,92.0 604.0,95.0 610.0,100.0 620.0,108.0 630.0,115.0 640.0,122.0 645.0,127.0 650.0,129.7 654.0,128.0 658.6,127.5 662.0,129.5 665.0,132.9 668.0,137.0 671.5,143.7 674.0,150.0 675.8,158.7 677.9,166.0" fill="none" stroke="#a4a4a4" stroke-width="0.7" stroke-linejoin="round" />
<polyline points="605.0,100.0 610.0,105.0 620.0,114.0 630.0,124.0 640.0,133.0 645.0,137.0 650.0,139.4 656.0,141.0 662.9,143.7 667.2,141.5 671.5,148.0 675.0,156.0 677.9,163.0" fill="none" stroke="#a4a4a4" stroke-width="0.7" stroke-linejoin="round" />
<polyline points="612.0,110.0 620.0,118.0 630.0,128.0 640.0,138.0 648.0,145.0 653.0,148.0 658.6,148.0 663.0,150.0 667.0,152.0 672.0,160.0 675.0,168.0 677.9,175.0" fill="none" stroke="#a4a4a4" stroke-width="0.7" stroke-linejoin="round" />
<polyline points="618.0,120.0 625.0,128.0 635.0,138.0 645.0,148.0 652.0,154.0 657.0,156.0 662.9,157.6 666.0,156.5 669.4,155.5 673.0,162.0 676.0,170.0 677.9,176.0" fill="none" stroke="#a4a4a4" stroke-width="0.7" stroke-linejoin="round" />
<polyline points="402.5,107.1 416.0,105.3 432.1,102.1 448.2,98.9 464.2,94.9 480.3,90.0 491.5,86.8 501.4,84.0 571.4,84.0 573.9,85.7 585.2,93.9 595.0,101.6 604.0,107.5 608.0,110.5 616.1,116.1 624.1,122.6 632.2,128.2 638.5,132.5 643.3,133.6 652.3,135.3 660.0,137.1 670.8,140.9 677.9,144.3" fill="none" stroke="#f01c1c" stroke-width="2.4" stroke-linejoin="round" />
<polyline points="402.5,109.5 404.0,109.5 405.5,109.5 407.0,109.5 408.5,109.5 410.0,109.4 411.5,109.4 413.0,109.4 414.5,109.4 416.0,109.4 417.5,109.4 419.0,109.4 420.5,109.4 422.0,109.3 423.5,109.3 425.0,109.3 426.5,109.3 428.0,109.3 429.5,109.3 431.0,109.3 432.5,109.3 434.0,109.2 435.5,109.2 437.0,109.2 438.5,109.2 440.0,109.2 441.5,109.2 443.0,109.2 444.5,109.1 446.0,109.1 447.5,109.1 449.0,109.0 450.5,109.0 452.0,109.0 453.5,109.0 455.0,109.0 456.5,108.9 458.0,108.9 459.5,108.9 461.0,108.9 462.5,108.8 464.0,108.8 465.5,108.8 467.0,108.8 468.5,108.7 470.0,108.7 471.5,108.0 473.0,107.2 474.5,106.5 476.0,105.7 477.5,105.0 479.0,104.2 480.8,102.7 482.5,101.2 484.3,99.7 486.1,97.9 487.9,96.1 489.7,94.3 491.2,93.4 492.7,92.5 494.2,91.6 495.8,90.7 497.4,89.8 498.9,89.0 500.5,88.1 502.3,87.2 504.0,86.2 505.8,85.1 508.6,84.5 510.3,84.1 512.0,83.9 514.9,86.8 516.6,86.9 518.4,87.3 520.5,85.7 522.6,83.8 524.7,82.0 526.2,79.2 527.7,79.5 529.2,78.4 530.7,80.1 532.2,79.0 533.7,79.0 535.5,77.9 537.3,78.8 540.0,78.7 542.7,80.2 544.4,81.2 546.0,78.9 547.7,77.9 549.5,76.2 551.4,78.0 554.0,76.6 555.7,73.9 557.3,74.4 559.0,73.7 561.5,78.1 563.3,77.5 565.1,78.3 567.0,78.9 568.9,76.7 570.8,78.0 572.6,78.6 574.3,82.3 575.9,82.8 577.6,84.5 580.5,82.6 582.2,80.6 583.9,79.5 586.4,81.8 588.1,84.9 589.7,87.5 591.4,89.0 593.3,87.4 595.2,86.5 596.9,85.9 598.5,82.2 600.2,79.9 602.1,81.0 604.0,85.1 605.5,85.8 607.0,88.1 609.0,90.4 611.0,95.9 612.8,97.9 614.5,99.6 616.1,101.6 617.7,105.2 620.5,109.0 623.3,111.0 624.9,114.9 627.2,118.4 629.0,119.1 630.8,122.1 632.5,122.0 634.3,122.5 637.0,123.9 639.7,128.3 641.5,131.8 643.3,135.6 645.1,137.3 646.9,142.8 648.7,145.2 650.5,148.2 652.2,148.3 654.0,151.2 656.5,154.3 658.5,153.2 660.6,154.7 662.3,154.9 664.0,155.4 665.5,154.4 667.0,154.8 668.5,154.4 670.6,156.6 672.8,156.4 674.7,159.5 676.6,164.5 677.9,170.0" fill="none" stroke="#1a22f0" stroke-width="1.45" stroke-linejoin="round" stroke-dasharray="8.3 6.7" stroke-linecap="round"/>
<polyline points="402.5,126.3 404.0,126.3 405.5,126.3 407.1,126.2 408.6,126.2 410.1,126.2 411.6,126.2 413.1,126.2 414.7,126.1 416.2,126.1 417.7,126.1 419.2,126.1 420.7,126.1 422.3,126.0 423.8,126.0 425.3,126.0 426.8,126.0 428.3,126.0 429.9,125.9 431.4,125.9 432.9,125.9 434.4,125.9 435.9,125.9 437.5,125.8 439.0,125.8 440.5,125.8 442.0,125.8 443.5,125.8 445.1,125.7 446.6,125.7 448.1,125.7 449.6,125.7 451.1,125.7 452.7,125.6 454.2,125.6 455.7,125.6 457.2,125.6 458.7,125.6 460.3,125.5 461.8,125.5 463.3,125.5 464.8,125.4 466.3,125.3 467.9,125.2 469.4,125.1 470.9,125.0 472.4,124.9 473.9,124.8 475.5,124.6 477.0,124.5 478.5,124.4 480.0,124.3 481.5,124.2 483.1,124.1 484.6,124.0 486.1,123.9 487.6,123.9 489.2,123.9 490.7,123.9 492.2,123.9 493.8,123.9 495.3,123.9 496.8,123.9 498.3,123.9 499.9,123.9 501.4,124.0 503.0,123.5 504.5,121.7 506.0,119.0 508.6,115.5 510.3,115.4 512.0,114.4 513.6,113.5 515.2,113.9 516.8,114.3 518.4,114.2 519.9,111.8 521.4,111.4 522.9,110.2 524.5,111.2 526.0,108.8 528.0,107.9 530.1,107.1 531.7,107.4 533.4,106.1 535.0,104.6 536.5,104.9 538.0,107.1 539.6,107.7 541.3,108.7 543.0,105.2 544.6,104.6 546.3,102.9 549.0,100.8 550.5,100.8 552.0,100.0 554.1,102.4 556.3,100.9 558.1,101.7 560.0,103.7 562.0,102.2 563.9,100.4 565.5,98.5 567.0,99.8 568.6,99.4 570.2,99.6 572.7,102.0 575.0,101.0 577.7,100.2 579.5,100.1 581.4,102.2 583.0,104.2 584.5,105.9 586.1,105.8 587.7,107.2 589.6,108.9 591.5,110.7 594.0,107.0 595.6,104.3 597.2,104.9 598.8,104.8 600.4,105.9 602.2,105.3 604.0,108.4 606.0,111.0 608.0,112.8 609.6,114.7 611.2,117.4 612.9,120.1 614.5,121.5 616.0,122.7 617.5,125.1 619.2,127.9 620.9,131.6 622.5,132.5 624.1,134.3 625.8,135.7 627.5,138.8 629.1,140.1 630.8,141.3 632.4,142.0 634.0,145.0 636.0,146.8 637.9,147.0 639.7,150.0 641.5,152.2 643.3,156.1 645.0,157.3 646.6,162.0 648.3,165.5 649.9,169.3 651.5,169.6 653.3,173.3 655.1,175.8 656.9,181.5 658.7,184.2 660.5,186.5 662.3,188.6 665.0,199.2 666.8,202.4 668.5,203.1 670.3,207.6 672.1,210.9 673.6,213.3 675.1,214.4 676.6,216.8 677.9,219.0" fill="none" stroke="#1a22f0" stroke-width="1.45" stroke-linejoin="round" stroke-dasharray="8.3 6.7" stroke-linecap="round"/>
<polyline points="402.5,117.7 404.1,117.7 405.6,117.7 407.2,117.7 408.7,117.7 410.3,117.7 411.8,117.7 413.4,117.7 414.9,117.7 416.5,117.7 418.0,117.7 419.6,117.7 421.1,117.7 422.7,117.8 424.3,117.8 425.8,117.8 427.4,117.8 428.9,117.8 430.5,117.8 432.0,117.8 433.6,117.8 435.1,117.8 436.7,117.8 438.2,117.8 439.8,117.8 441.3,117.8 442.9,117.8 444.5,117.8 446.0,117.7 447.6,117.7 449.2,117.6 450.7,117.6 452.3,117.5 453.9,117.5 455.5,117.4 457.0,117.4 458.6,117.3 460.2,117.3 461.7,117.2 463.3,117.2 465.0,117.1 466.6,117.0 468.3,116.8 470.0,116.7 471.9,116.5 473.9,116.3 475.8,116.1 477.3,115.8 478.8,115.5 480.3,115.2 481.8,114.9 483.3,114.6 484.8,114.3 486.3,113.8 487.8,113.4 489.3,112.9 490.8,112.5 492.3,112.0 493.8,111.6 495.6,111.3 497.4,110.9 499.1,110.6 500.9,110.3 502.7,109.9 504.2,109.4 505.7,109.1 507.2,109.0 508.7,109.4 510.2,108.2 511.7,108.0 513.5,106.4 515.3,107.4 517.1,105.6 518.9,103.7 520.6,102.5 522.4,102.2 524.4,101.5 526.3,98.2 528.3,98.5 530.1,97.9 531.9,97.9 533.7,95.7 535.2,95.9 536.7,95.7 538.2,96.9 540.8,92.7 542.3,94.1 543.8,97.1 545.7,96.3 547.6,94.8 549.3,92.4 550.9,93.2 552.6,92.3 554.5,91.8 556.3,88.7 558.9,90.7 560.8,90.7 562.6,87.7 565.1,87.2 567.6,91.3 569.3,88.6 571.0,87.8 572.7,86.0 574.4,89.6 576.0,89.8 577.7,91.4 579.4,91.3 581.0,94.6 582.7,95.2 584.4,96.3 586.0,95.1 588.1,97.9 590.2,99.4 591.9,97.5 593.5,96.4 595.2,96.0 596.8,97.0 598.4,96.4 600.0,95.2 602.0,95.3 604.0,97.7 605.8,98.6 607.5,101.0 609.3,102.4 611.1,107.0 612.9,108.5 614.7,110.2 616.2,111.7 617.7,115.6 619.3,117.3 620.9,119.9 622.5,120.0 624.1,123.1 625.8,124.9 627.4,128.1 629.0,127.7 630.6,130.1 632.2,131.3 633.8,135.1 635.4,135.4 637.0,137.2 638.6,137.7 641.5,143.8 643.3,145.8 645.1,146.4 646.9,150.2 648.7,152.3 650.5,155.4 652.3,155.7 653.8,160.2 655.4,163.0 656.9,167.4 658.7,168.2 660.5,171.9 662.3,174.8 664.0,179.9 665.8,181.8 668.5,186.9 671.2,193.6 673.5,198.7 675.7,201.8 677.9,206.0" fill="none" stroke="#0606e6" stroke-width="2.0" stroke-linejoin="round" />
</g>
<rect x="402.5" y="20.4" width="275.40" height="215.50" fill="none" stroke="#383838" stroke-width="1.15"/>
<line x1="402.50" y1="235.90" x2="402.50" y2="230.40" stroke="#383838" stroke-width="1" />
<line x1="402.50" y1="20.40" x2="402.50" y2="25.90" stroke="#383838" stroke-width="1" />
<line x1="402.50" y1="235.90" x2="408.00" y2="235.90" stroke="#383838" stroke-width="1" />
<line x1="677.90" y1="235.90" x2="672.40" y2="235.90" stroke="#383838" stroke-width="1" />
<line x1="501.63" y1="235.90" x2="501.63" y2="230.40" stroke="#383838" stroke-width="1" />
<line x1="501.63" y1="20.40" x2="501.63" y2="25.90" stroke="#383838" stroke-width="1" />
<line x1="402.50" y1="158.33" x2="408.00" y2="158.33" stroke="#383838" stroke-width="1" />
<line x1="677.90" y1="158.33" x2="672.40" y2="158.33" stroke="#383838" stroke-width="1" />
<line x1="600.76" y1="235.90" x2="600.76" y2="230.40" stroke="#383838" stroke-width="1" />
<line x1="600.76" y1="20.40" x2="600.76" y2="25.90" stroke="#383838" stroke-width="1" />
<line x1="402.50" y1="80.76" x2="408.00" y2="80.76" stroke="#383838" stroke-width="1" />
<line x1="677.90" y1="80.76" x2="672.40" y2="80.76" stroke="#383838" stroke-width="1" />
<line x1="432.34" y1="235.90" x2="432.34" y2="233.10" stroke="#383838" stroke-width="1" />
<line x1="432.34" y1="20.40" x2="432.34" y2="23.20" stroke="#383838" stroke-width="1" />
<line x1="402.50" y1="212.55" x2="405.30" y2="212.55" stroke="#383838" stroke-width="1" />
<line x1="677.90" y1="212.55" x2="675.10" y2="212.55" stroke="#383838" stroke-width="1" />
<line x1="449.80" y1="235.90" x2="449.80" y2="233.10" stroke="#383838" stroke-width="1" />
<line x1="449.80" y1="20.40" x2="449.80" y2="23.20" stroke="#383838" stroke-width="1" />
<line x1="402.50" y1="198.89" x2="405.30" y2="198.89" stroke="#383838" stroke-width="1" />
<line x1="677.90" y1="198.89" x2="675.10" y2="198.89" stroke="#383838" stroke-width="1" />
<line x1="462.18" y1="235.90" x2="462.18" y2="233.10" stroke="#383838" stroke-width="1" />
<line x1="462.18" y1="20.40" x2="462.18" y2="23.20" stroke="#383838" stroke-width="1" />
<line x1="402.50" y1="189.20" x2="405.30" y2="189.20" stroke="#383838" stroke-width="1" />
<line x1="677.90" y1="189.20" x2="675.10" y2="189.20" stroke="#383838" stroke-width="1" />
<line x1="471.79" y1="235.90" x2="471.79" y2="233.10" stroke="#383838" stroke-width="1" />
<line x1="471.79" y1="20.40" x2="471.79" y2="23.20" stroke="#383838" stroke-width="1" />
<line x1="402.50" y1="181.68" x2="405.30" y2="181.68" stroke="#383838" stroke-width="1" />
<line x1="677.90" y1="181.68" x2="675.10" y2="181.68" stroke="#383838" stroke-width="1" />
<line x1="479.64" y1="235.90" x2="479.64" y2="233.10" stroke="#383838" stroke-width="1" />
<line x1="479.64" y1="20.40" x2="479.64" y2="23.20" stroke="#383838" stroke-width="1" />
<line x1="402.50" y1="175.54" x2="405.30" y2="175.54" stroke="#383838" stroke-width="1" />
<line x1="677.90" y1="175.54" x2="675.10" y2="175.54" stroke="#383838" stroke-width="1" />
<line x1="486.28" y1="235.90" x2="486.28" y2="233.10" stroke="#383838" stroke-width="1" />
<line x1="486.28" y1="20.40" x2="486.28" y2="23.20" stroke="#383838" stroke-width="1" />
<line x1="402.50" y1="170.35" x2="405.30" y2="170.35" stroke="#383838" stroke-width="1" />
<line x1="677.90" y1="170.35" x2="675.10" y2="170.35" stroke="#383838" stroke-width="1" />
<line x1="492.02" y1="235.90" x2="492.02" y2="233.10" stroke="#383838" stroke-width="1" />
<line x1="492.02" y1="20.40" x2="492.02" y2="23.20" stroke="#383838" stroke-width="1" />
<line x1="402.50" y1="165.85" x2="405.30" y2="165.85" stroke="#383838" stroke-width="1" />
<line x1="677.90" y1="165.85" x2="675.10" y2="165.85" stroke="#383838" stroke-width="1" />
<line x1="497.09" y1="235.90" x2="497.09" y2="233.10" stroke="#383838" stroke-width="1" />
<line x1="497.09" y1="20.40" x2="497.09" y2="23.20" stroke="#383838" stroke-width="1" />
<line x1="402.50" y1="161.88" x2="405.30" y2="161.88" stroke="#383838" stroke-width="1" />
<line x1="677.90" y1="161.88" x2="675.10" y2="161.88" stroke="#383838" stroke-width="1" />
<line x1="531.47" y1="235.90" x2="531.47" y2="233.10" stroke="#383838" stroke-width="1" />
<line x1="531.47" y1="20.40" x2="531.47" y2="23.20" stroke="#383838" stroke-width="1" />
<line x1="402.50" y1="134.98" x2="405.30" y2="134.98" stroke="#383838" stroke-width="1" />
<line x1="677.90" y1="134.98" x2="675.10" y2="134.98" stroke="#383838" stroke-width="1" />
<line x1="548.93" y1="235.90" x2="548.93" y2="233.10" stroke="#383838" stroke-width="1" />
<line x1="548.93" y1="20.40" x2="548.93" y2="23.20" stroke="#383838" stroke-width="1" />
<line x1="402.50" y1="121.32" x2="405.30" y2="121.32" stroke="#383838" stroke-width="1" />
<line x1="677.90" y1="121.32" x2="675.10" y2="121.32" stroke="#383838" stroke-width="1" />
<line x1="561.31" y1="235.90" x2="561.31" y2="233.10" stroke="#383838" stroke-width="1" />
<line x1="561.31" y1="20.40" x2="561.31" y2="23.20" stroke="#383838" stroke-width="1" />
<line x1="402.50" y1="111.63" x2="405.30" y2="111.63" stroke="#383838" stroke-width="1" />
<line x1="677.90" y1="111.63" x2="675.10" y2="111.63" stroke="#383838" stroke-width="1" />
<line x1="570.92" y1="235.90" x2="570.92" y2="233.10" stroke="#383838" stroke-width="1" />
<line x1="570.92" y1="20.40" x2="570.92" y2="23.20" stroke="#383838" stroke-width="1" />
<line x1="402.50" y1="104.11" x2="405.30" y2="104.11" stroke="#383838" stroke-width="1" />
<line x1="677.90" y1="104.11" x2="675.10" y2="104.11" stroke="#383838" stroke-width="1" />
<line x1="578.77" y1="235.90" x2="578.77" y2="233.10" stroke="#383838" stroke-width="1" />
<line x1="578.77" y1="20.40" x2="578.77" y2="23.20" stroke="#383838" stroke-width="1" />
<line x1="402.50" y1="97.97" x2="405.30" y2="97.97" stroke="#383838" stroke-width="1" />
<line x1="677.90" y1="97.97" x2="675.10" y2="97.97" stroke="#383838" stroke-width="1" />
<line x1="585.41" y1="235.90" x2="585.41" y2="233.10" stroke="#383838" stroke-width="1" />
<line x1="585.41" y1="20.40" x2="585.41" y2="23.20" stroke="#383838" stroke-width="1" />
<line x1="402.50" y1="92.78" x2="405.30" y2="92.78" stroke="#383838" stroke-width="1" />
<line x1="677.90" y1="92.78" x2="675.10" y2="92.78" stroke="#383838" stroke-width="1" />
<line x1="591.15" y1="235.90" x2="591.15" y2="233.10" stroke="#383838" stroke-width="1" />
<line x1="591.15" y1="20.40" x2="591.15" y2="23.20" stroke="#383838" stroke-width="1" />
<line x1="402.50" y1="88.28" x2="405.30" y2="88.28" stroke="#383838" stroke-width="1" />
<line x1="677.90" y1="88.28" x2="675.10" y2="88.28" stroke="#383838" stroke-width="1" />
<line x1="596.23" y1="235.90" x2="596.23" y2="233.10" stroke="#383838" stroke-width="1" />
<line x1="596.23" y1="20.40" x2="596.23" y2="23.20" stroke="#383838" stroke-width="1" />
<line x1="402.50" y1="84.31" x2="405.30" y2="84.31" stroke="#383838" stroke-width="1" />
<line x1="677.90" y1="84.31" x2="675.10" y2="84.31" stroke="#383838" stroke-width="1" />
<line x1="630.60" y1="235.90" x2="630.60" y2="233.10" stroke="#383838" stroke-width="1" />
<line x1="630.60" y1="20.40" x2="630.60" y2="23.20" stroke="#383838" stroke-width="1" />
<line x1="402.50" y1="57.41" x2="405.30" y2="57.41" stroke="#383838" stroke-width="1" />
<line x1="677.90" y1="57.41" x2="675.10" y2="57.41" stroke="#383838" stroke-width="1" />
<line x1="648.06" y1="235.90" x2="648.06" y2="233.10" stroke="#383838" stroke-width="1" />
<line x1="648.06" y1="20.40" x2="648.06" y2="23.20" stroke="#383838" stroke-width="1" />
<line x1="402.50" y1="43.75" x2="405.30" y2="43.75" stroke="#383838" stroke-width="1" />
<line x1="677.90" y1="43.75" x2="675.10" y2="43.75" stroke="#383838" stroke-width="1" />
<line x1="660.44" y1="235.90" x2="660.44" y2="233.10" stroke="#383838" stroke-width="1" />
<line x1="660.44" y1="20.40" x2="660.44" y2="23.20" stroke="#383838" stroke-width="1" />
<line x1="402.50" y1="34.06" x2="405.30" y2="34.06" stroke="#383838" stroke-width="1" />
<line x1="677.90" y1="34.06" x2="675.10" y2="34.06" stroke="#383838" stroke-width="1" />
<line x1="670.05" y1="235.90" x2="670.05" y2="233.10" stroke="#383838" stroke-width="1" />
<line x1="670.05" y1="20.40" x2="670.05" y2="23.20" stroke="#383838" stroke-width="1" />
<line x1="402.50" y1="26.54" x2="405.30" y2="26.54" stroke="#383838" stroke-width="1" />
<line x1="677.90" y1="26.54" x2="675.10" y2="26.54" stroke="#383838" stroke-width="1" />
<text transform="translate(403.50,254.60) scale(0.955,1)" font-size="16.0" font-family="Liberation Serif, serif" text-anchor="middle" font-weight="normal" fill="#000" >0.01</text>
<text transform="translate(397.10,240.30) scale(0.955,1)" font-size="16.0" font-family="Liberation Serif, serif" text-anchor="end" font-weight="normal" fill="#000" >0.01</text>
<text transform="translate(502.63,254.60) scale(0.955,1)" font-size="16.0" font-family="Liberation Serif, serif" text-anchor="middle" font-weight="normal" fill="#000" >0.1</text>
<text transform="translate(398.00,165.43) scale(0.955,1)" font-size="16.0" font-family="Liberation Serif, serif" text-anchor="end" font-weight="normal" fill="#000" >0.1</text>
<text transform="translate(601.76,254.60) scale(0.955,1)" font-size="16.0" font-family="Liberation Serif, serif" text-anchor="middle" font-weight="normal" fill="#000" >1</text>
<text transform="translate(398.10,87.16) scale(0.955,1)" font-size="16.0" font-family="Liberation Serif, serif" text-anchor="end" font-weight="normal" fill="#000" >1</text>
<text transform="translate(678.90,254.60) scale(0.955,1)" font-size="16.0" font-family="Liberation Serif, serif" text-anchor="middle" font-weight="normal" fill="#000" >6</text>
<text transform="translate(398.30,25.50) scale(0.955,1)" font-size="16.0" font-family="Liberation Serif, serif" text-anchor="end" font-weight="normal" fill="#000" >6</text>
<text transform="translate(521.50,274.70) scale(0.955,1)" font-size="16.0" font-family="Liberation Serif, serif" text-anchor="start" font-weight="normal" fill="#000" >Period (s)</text>
<text transform="translate(368.7,200.7) rotate(-90)" font-size="15.5" font-family="Liberation Serif, serif" fill="#000">Spectral acceleration (g)</text>
<text transform="translate(598.49,47.90) scale(0.955,1)" font-size="14.4" font-family="Liberation Serif, serif" text-anchor="middle" font-weight="normal" fill="#000" >Period of interest</text>
<line x1="552.93" y1="53.80" x2="644.06" y2="53.80" stroke="#000" stroke-width="1.5" stroke-opacity="0.45"/>
<path d="M549.53,53.8 l6.6,-2.9 l-1.0,2.9 l1.0,2.9 z" fill="#1a1a1a"/>
<path d="M647.46,53.8 l-6.6,-2.9 l1.0,2.9 l-1.0,2.9 z" fill="#1a1a1a"/>
<text transform="translate(0.40,11.20) scale(1,1)" font-size="15.5" font-family="Liberation Serif, serif" text-anchor="start" font-weight="bold" fill="#000" >(a)</text>
<text transform="translate(351.50,11.20) scale(1,1)" font-size="15.5" font-family="Liberation Serif, serif" text-anchor="start" font-weight="bold" fill="#000" >(b)</text>
<text transform="translate(180.00,13.30) scale(1,1)" font-size="15.5" font-family="Liberation Serif, serif" text-anchor="middle" font-weight="bold" fill="#000" >10%-50 years</text>
<text transform="translate(538.30,13.30) scale(1,1)" font-size="15.5" font-family="Liberation Serif, serif" text-anchor="middle" font-weight="bold" fill="#000" >2%-50 years</text>
<line x1="413.90" y1="164.30" x2="438.70" y2="164.30" stroke="#a4a4a4" stroke-width="0.7" />
<text transform="translate(444.00,168.30) scale(0.955,1)" font-size="16.0" font-family="Liberation Serif, serif" text-anchor="start" font-weight="normal" fill="#000" >Each</text>
<line x1="413.90" y1="180.30" x2="438.70" y2="180.30" stroke="#0606e6" stroke-width="2.0" />
<text transform="translate(444.00,184.30) scale(0.955,1)" font-size="16.0" font-family="Liberation Serif, serif" text-anchor="start" font-weight="normal" fill="#000" >Median</text>
<line x1="413.90" y1="197.80" x2="438.70" y2="197.80" stroke="#1a22f0" stroke-width="1.45" stroke-dasharray="8.3 6.7" stroke-linecap="round"/>
<text transform="translate(444.00,201.80) scale(0.955,1)" font-size="16.0" font-family="Liberation Serif, serif" text-anchor="start" font-weight="normal" fill="#000" >16/84 percentile</text>
<line x1="413.90" y1="215.30" x2="438.70" y2="215.30" stroke="#f01c1c" stroke-width="2.4" />
<text transform="translate(444.00,219.30) scale(0.955,1)" font-size="16.0" font-family="Liberation Serif, serif" text-anchor="start" font-weight="normal" fill="#000" >Target (Code)</text>
</svg>
</body></html>
